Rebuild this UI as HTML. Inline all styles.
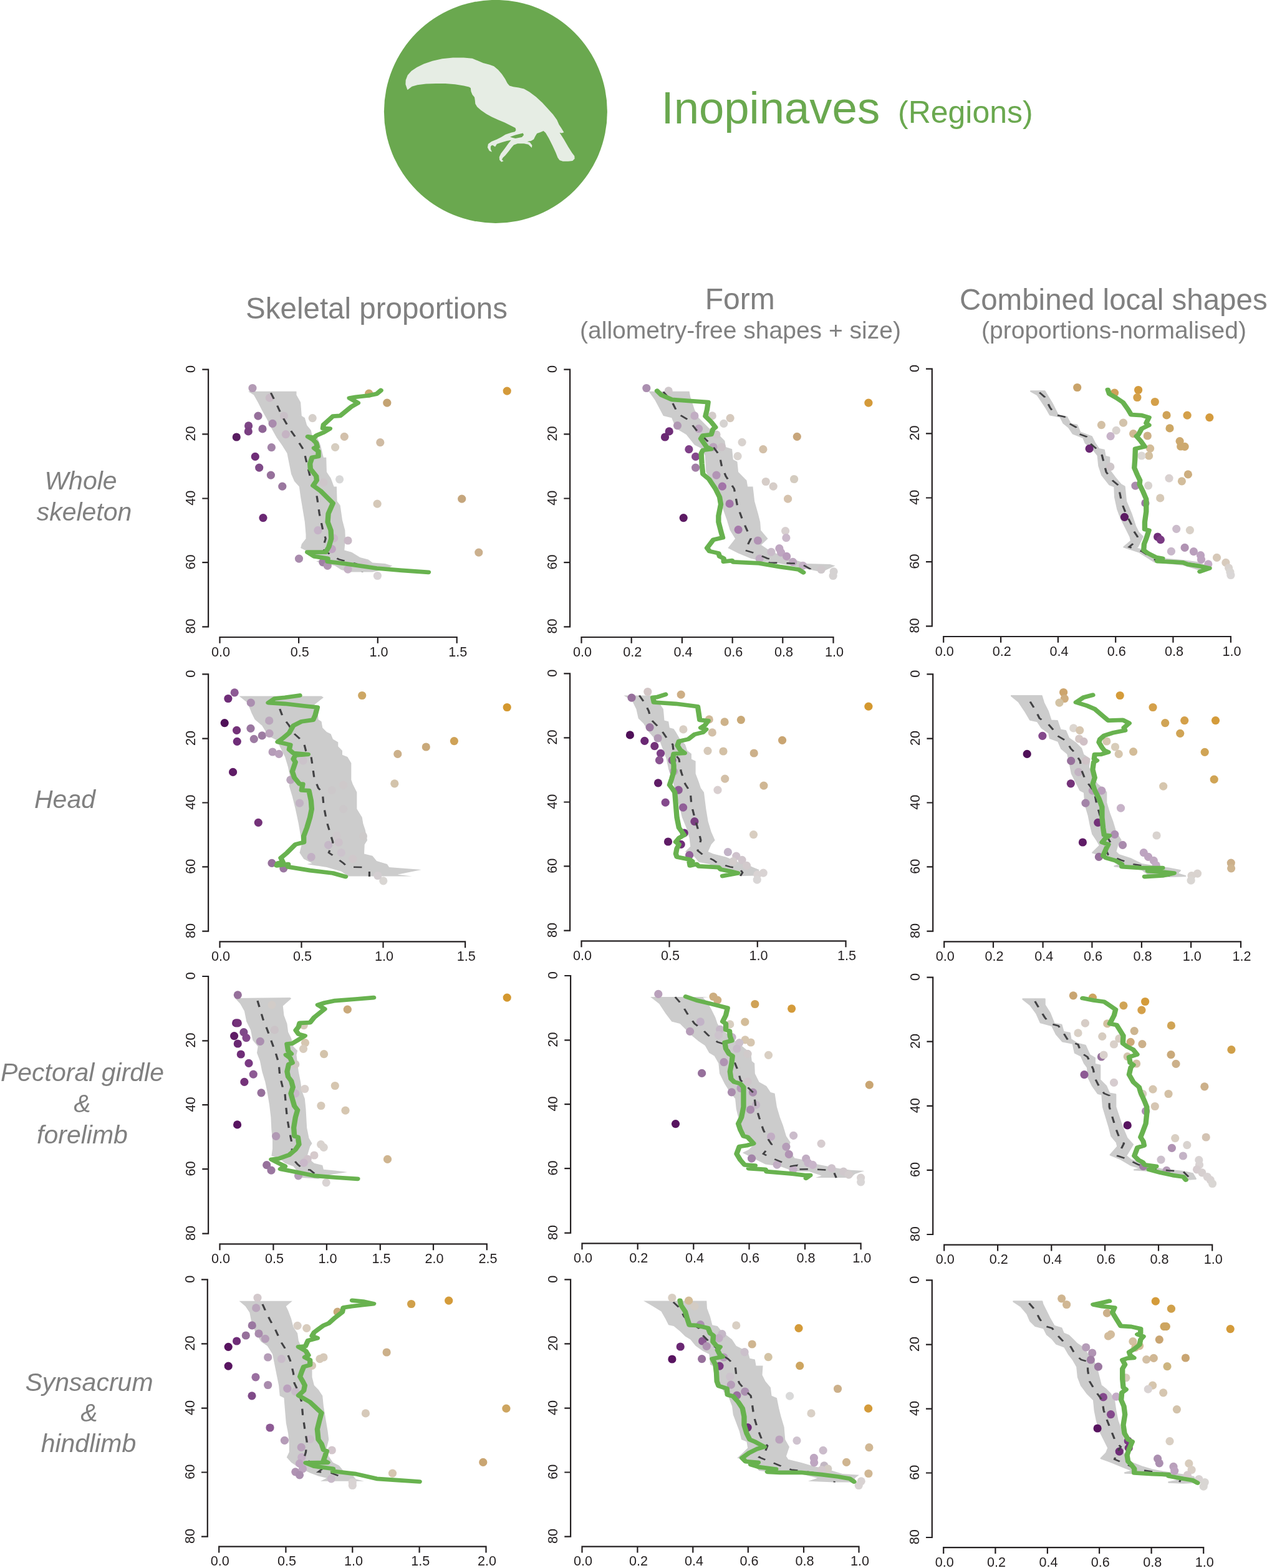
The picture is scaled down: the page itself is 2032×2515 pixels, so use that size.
<!DOCTYPE html>
<html lang="en"><head><meta charset="utf-8"><title>Inopinaves (Regions)</title>
<style>
html,body{margin:0;padding:0;background:#fff}
body{width:2032px;height:2515px;overflow:hidden;font-family:"Liberation Sans",sans-serif}
svg{display:block;font-family:"Liberation Sans",sans-serif}
.tk text{font-size:21.6px;fill:#231f20;text-anchor:middle}
.hd text{fill:#808080;text-anchor:middle}
.rl text{fill:#808080;text-anchor:middle;font-style:italic;font-size:41px}
</style></head><body>
<svg width="2032" height="2515" viewBox="0 0 2032 2515">
<rect width="2032" height="2515" fill="#fff"/>
<g>

<circle cx="794.9" cy="178.9" r="179" fill="#6aa84f"/>
<polygon fill="#e6ede4" points="653.5,144.3 650.4,135.3 650.7,128.4 653.8,120.6 659.9,113.7 668.5,108.0 679.7,102.5 693.6,97.8 709.1,94.3 726.4,92.6 743.7,92.4 757.5,93.8 766.1,97.3 774.8,101.1 785.2,103.8 792.1,106.3 799.0,112.0 805.0,118.9 810.2,126.7 813.7,133.6 817.1,137.4 823.2,139.3 831.8,140.5 840.4,142.6 849.1,147.4 859.5,155.2 869.8,164.7 878.5,174.2 887.1,183.7 893.2,192.3 896.6,200.1 900.1,205.3 904.4,212.2 900.9,213.4 897.5,212.7 904.4,223.4 911.3,235.5 917.3,245.0 921.3,250.2 921.7,254.5 918.2,258.0 911.3,258.8 902.7,258.8 897.5,257.1 894.4,252.8 891.4,245.0 886.2,233.8 880.2,221.7 875.0,213.1 871.6,209.9 866.4,212.2 861.2,213.9 858.6,218.2 856.0,223.4 851.7,226.0 845.6,226.9 850.0,228.6 853.4,232.9 852.9,236.9 850.5,234.7 847.4,231.7 840.4,230.3 830.1,230.3 824.0,232.4 820.7,236.2 815.6,243.1 810.4,249.2 806.2,253.3 804.9,256.3 807.6,258.3 804.2,259.7 801.1,256.6 800.7,251.9 803.3,246.2 809.3,238.5 815.4,230.0 819.7,224.8 812.8,226.0 804.2,228.6 796.9,231.0 794.1,235.5 791.2,233.4 789.0,232.8 786.9,235.0 786.9,239.0 789.0,243.8 784.8,241.9 781.9,236.4 782.9,230.9 788.3,227.1 796.9,223.6 803.8,220.1 810.7,215.8 819.7,212.7 825.8,211.3 827.5,208.7 826.6,205.3 819.7,201.8 809.3,196.6 799.0,192.3 788.6,187.5 780.0,182.8 771.3,176.8 765.3,171.6 762.3,166.4 761.8,161.2 761.0,156.0 757.5,151.7 755.4,146.5 754.9,141.3 752.3,139.6 743.7,137.4 729.9,135.3 714.3,134.1 698.8,133.9 683.2,134.6 669.4,136.2 660.7,138.8 656.4,141.9"/>
<polygon fill="#6aa84f" points="818.0,219.6 826.6,216.5 838.7,213.4 840.1,216.5 837.0,220.0 826.6,222.0 821.4,220.8"/>
<text x="1060.5" y="198" font-size="72.5" fill="#6aa84f">Inopinaves</text>
<text x="1440" y="196.5" font-size="50" fill="#6aa84f">(Regions)</text>
<g class="hd">
<text x="604" y="510.8" font-size="47.5">Skeletal proportions</text>
<text x="1186.8" y="496" font-size="48">Form</text>
<text x="1187.5" y="543" font-size="39">(allometry-free shapes + size)</text>
<text x="1538.9" y="496.5" font-size="47.5" style="text-anchor:start">Combined local shapes</text>
<text x="1786.5" y="543" font-size="39">(proportions-normalised)</text>
</g>
<g class="rl">
<text x="129.5" y="784.7">Whole</text>
<text x="135" y="834.5">skeleton</text>
<text x="104" y="1296">Head</text>
<text x="132" y="1734.3">Pectoral girdle</text>
<text x="132" y="1784.4">&amp;</text>
<text x="132" y="1834.3">forelimb</text>
<text x="143" y="2230.7">Synsacrum</text>
<text x="143" y="2280">&amp;</text>
<text x="142" y="2329.4">hindlimb</text>
</g>

<!-- panel p00 -->
<g>
<polygon fill="#cccccc" points="397.96,627.8 406.98,633.5 413.66,645.2 420.35,658.5 428.7,673.6 435.38,686.9 443.73,702 452.09,713.7 460.44,727 463.78,743.7 467.12,760.4 472.13,772.1 479.82,780.5 482.15,797.2 485.5,817.2 488.84,837.3 490.51,857.3 490.51,864 483.83,872.4 482.15,879 492.18,884.1 503.87,890.7 517.24,895.7 507.21,900.8 523.92,904.1 537.28,907.4 547.3,914.1 560.67,917.5 597.42,917.5 620.81,912.5 629.16,907.4 617.47,904.1 597.42,902.4 590.74,897.4 577.37,894.1 564.01,885.7 552.32,882.4 553.99,864 553.32,850.6 548.97,833.9 545.63,810.6 540.62,803.9 539.95,780.5 535.61,780.5 530.6,767.1 523.92,757.1 523.25,733.7 518.91,733.7 513.89,713.7 508.88,702 500.53,698.6 498.86,690.3 492.18,681.9 488.84,670.2 483.83,666.9 482.15,645.2 475.47,633.5 475.47,627.8"/>
<circle cx="405" cy="622.5" r="6.6" fill="#b39bb5"/>
<circle cx="414" cy="667.2" r="6.6" fill="#96709b"/>
<circle cx="398.6" cy="682.9" r="6.6" fill="#7d4585"/>
<circle cx="398.3" cy="691.9" r="6.6" fill="#7a3f82"/>
<circle cx="421" cy="687.9" r="6.6" fill="#8f6596"/>
<circle cx="437.1" cy="679.3" r="6.6" fill="#a98bad"/>
<circle cx="379.3" cy="701" r="6.6" fill="#581c60"/>
<circle cx="435.4" cy="717.7" r="6.6" fill="#a384a8"/>
<circle cx="409.3" cy="732.4" r="6.6" fill="#6f2d78"/>
<circle cx="415.7" cy="750.1" r="6.6" fill="#7f4a88"/>
<circle cx="434.4" cy="762.1" r="6.6" fill="#96709b"/>
<circle cx="452.8" cy="780.2" r="6.6" fill="#9a779f"/>
<circle cx="422" cy="830.6" r="6.6" fill="#6a2873"/>
<circle cx="501.2" cy="670.6" r="6.6" fill="#d5cfca"/>
<circle cx="552.3" cy="700.3" r="6.6" fill="#d2c0ab"/>
<circle cx="537.6" cy="717.3" r="6.6" fill="#d6cdc0"/>
<circle cx="609.8" cy="709.7" r="6.6" fill="#cfbba3"/>
<circle cx="544.6" cy="768.8" r="6.6" fill="#d8d8d8"/>
<circle cx="605.1" cy="808.2" r="6.6" fill="#d5c8b8"/>
<circle cx="591.7" cy="631.1" r="6.6" fill="#c9a66f"/>
<circle cx="620.8" cy="646.2" r="6.6" fill="#c4a373"/>
<circle cx="813.2" cy="627.1" r="6.6" fill="#d49a3a"/>
<circle cx="740.7" cy="800.2" r="6.6" fill="#c5a67d"/>
<circle cx="767.8" cy="886.1" r="6.6" fill="#cbb08e"/>
<circle cx="558" cy="867" r="6.6" fill="#c9b9c6"/>
<circle cx="479.5" cy="896.1" r="6.6" fill="#a98bad"/>
<circle cx="605.4" cy="923.5" r="6.6" fill="#d9d3d6"/>
<circle cx="432.4" cy="638.2" r="6.6" fill="#c9bcc6"/>
<circle cx="455.4" cy="667.2" r="6.6" fill="#c9c0c7"/>
<circle cx="458.4" cy="696.6" r="6.6" fill="#c5b4c3"/>
<circle cx="509.9" cy="850.6" r="6.6" fill="#c5b3c7"/>
<circle cx="535.6" cy="863.3" r="6.6" fill="#cbbaca"/>
<circle cx="532.3" cy="880.7" r="6.6" fill="#c0a6c2"/>
<circle cx="517.9" cy="901.8" r="6.6" fill="#a07fa5"/>
<circle cx="525.3" cy="907.4" r="6.6" fill="#b195b3"/>
<circle cx="558" cy="913.1" r="6.6" fill="#c5b2c5"/>
<circle cx="518.9" cy="773.8" r="6.6" fill="#cec6ca"/>
<circle cx="584.1" cy="904.1" r="6.6" fill="#cec6cc"/>
<polyline transform="scale(1.3 1)" fill="none" stroke="#424244" stroke-width="2.5" stroke-dasharray="10.3 11.7" points="334.14,630.1 341.33,648.5 347.76,666.9 356.75,686.9 365.75,703.6 374.74,722 378.6,743.7 382.45,763.8 388.88,780.5 391.45,800.5 394.02,823.9 397.87,847.3 401.73,864 397.87,880.7 410.72,892.4 418.43,897.4 438.99,904.1 449.27,910.8 446.7,917.5"/>
<polyline transform="scale(1.25 1)" fill="none" stroke="#68b24f" stroke-width="6.7" stroke-linejoin="round" stroke-linecap="round" points="488.63,626.1 483.28,631.8 472.59,634.5 456.55,636.8 448.53,638.5 459.23,646.2 451.21,651.9 436.51,666.9 427.15,667.6 415.12,681.3 414.32,686.9 423.14,687.6 415.12,693.6 405.77,698.6 403.1,702 395.08,700.3 401.76,705.3 405.77,710.3 407.11,717 403.1,718.7 408.44,723.7 408.44,732 400.42,733.7 397.75,743.7 398.29,752.1 405.77,763.8 406.3,770.5 401.76,778.8 411.12,787.2 427.15,807.2 421.27,823.9 420.47,837.3 424.48,850.6 425.01,864 421.81,877.4 417.8,885.7 394.54,885.7 403.1,892.4 420.47,895.7 420.47,900.8 443.19,904.1 483.28,911.5 515.36,914.8 549.57,917.8"/>
<path d="M324.3 592.7H334.1V1005.3H324.3M324.3 696.3H334.1M324.3 799.5H334.1M324.3 902.1H334.1M352.5 1031.8V1022H732.7V1031.8M479.1 1022V1031.8M605.8 1022V1031.8" fill="none" stroke="#231f20" stroke-width="2.2"/>
<g class="tk">
<text transform="translate(312.9 592) rotate(-90)">0</text>
<text transform="translate(312.9 695.6) rotate(-90)">20</text>
<text transform="translate(312.9 798.8) rotate(-90)">40</text>
<text transform="translate(312.9 901.4) rotate(-90)">60</text>
<text transform="translate(312.9 1004.6) rotate(-90)">80</text>
<text x="354.1" y="1052.7">0.0</text>
<text x="480.7" y="1052.7">0.5</text>
<text x="607.4" y="1052.7">1.0</text>
<text x="734.3" y="1052.7">1.5</text>
</g></g>
<!-- panel p01 -->
<g>
<polygon fill="#cccccc" points="1040.44,627.8 1050.46,641.8 1063.83,666.9 1077.19,670.2 1083.87,686.9 1100.58,697 1113.94,713.7 1123.96,718.7 1130.65,730.4 1132.32,757.1 1144.01,777.1 1150.69,787.2 1157.37,810.6 1165.73,833.9 1170.74,850.6 1179.09,864 1167.4,879 1184.1,887.4 1204.15,895.7 1224.19,900.8 1250.92,904.1 1284.33,910.8 1317.74,917.5 1339.46,907.4 1331.11,905.1 1294.36,904.1 1277.65,899.1 1250.92,890.7 1230.88,880.7 1220.85,874 1231.54,864 1220.18,850.6 1219.18,837.3 1215.84,823.9 1210.16,803.9 1207.49,780.5 1199.14,780.5 1197.47,770.5 1184.1,757.1 1182.43,740.4 1175.75,737.1 1174.08,720.3 1164.06,717 1162.39,707 1154.03,698.6 1147.35,691.9 1137.33,686.9 1130.65,680.3 1120.62,670.2 1113.94,656.9 1107.26,636.8 1105.59,627.8"/>
<circle cx="1036.8" cy="622.5" r="6.6" fill="#ab8fb0"/>
<circle cx="1072.2" cy="626.8" r="6.6" fill="#d0c8cc"/>
<circle cx="1086.5" cy="682.6" r="6.6" fill="#b097b3"/>
<circle cx="1073.2" cy="691.9" r="6.6" fill="#6f2d78"/>
<circle cx="1066.5" cy="701" r="6.6" fill="#6a2873"/>
<circle cx="1104.9" cy="720.7" r="6.6" fill="#7f4088"/>
<circle cx="1115.6" cy="732.4" r="6.6" fill="#84498c"/>
<circle cx="1115.6" cy="750.1" r="6.6" fill="#a27fa6"/>
<circle cx="1096.2" cy="830.6" r="6.6" fill="#5c1a63"/>
<circle cx="1142.3" cy="666.9" r="6.6" fill="#d3cbc9"/>
<circle cx="1160.7" cy="679.3" r="6.6" fill="#d6d3d1"/>
<circle cx="1171.1" cy="670.6" r="6.6" fill="#d5c9bd"/>
<circle cx="1190.1" cy="709.3" r="6.6" fill="#d8d2ce"/>
<circle cx="1183.1" cy="731.7" r="6.6" fill="#d9d4d0"/>
<circle cx="1223.9" cy="720.7" r="6.6" fill="#d3c0a9"/>
<circle cx="1278.3" cy="700.3" r="6.6" fill="#c8a67b"/>
<circle cx="1392.9" cy="646.2" r="6.6" fill="#d49a3a"/>
<circle cx="1273.6" cy="768.5" r="6.6" fill="#d4ccc0"/>
<circle cx="1228.2" cy="772.5" r="6.6" fill="#d6cdc8"/>
<circle cx="1240.2" cy="780.2" r="6.6" fill="#d6cdc8"/>
<circle cx="1263.6" cy="800.2" r="6.6" fill="#d6c3ae"/>
<circle cx="1259.6" cy="851.6" r="6.6" fill="#d8d0d0"/>
<circle cx="1260.9" cy="862.7" r="6.6" fill="#cbb9cb"/>
<circle cx="1337.1" cy="916.8" r="6.6" fill="#d5d2d2"/>
<circle cx="1336.1" cy="923.5" r="6.6" fill="#d5d2d2"/>
<circle cx="1113.9" cy="666.9" r="6.6" fill="#c1adc3"/>
<circle cx="1120.6" cy="687.6" r="6.6" fill="#baa2bc"/>
<circle cx="1149" cy="762.1" r="6.6" fill="#b295b5"/>
<circle cx="1158.4" cy="780.2" r="6.6" fill="#a274a8"/>
<circle cx="1170.1" cy="807.9" r="6.6" fill="#a274a8"/>
<circle cx="1184.1" cy="849.6" r="6.6" fill="#a578aa"/>
<circle cx="1215.5" cy="867" r="6.6" fill="#b193b4"/>
<circle cx="1249.9" cy="879.7" r="6.6" fill="#bfa6c1"/>
<circle cx="1236.9" cy="885.4" r="6.6" fill="#c9bbc9"/>
<circle cx="1252.6" cy="886.1" r="6.6" fill="#bfa6c1"/>
<circle cx="1261.6" cy="892.4" r="6.6" fill="#b99cbc"/>
<circle cx="1218.2" cy="896.1" r="6.6" fill="#c1adc3"/>
<circle cx="1271.6" cy="901.4" r="6.6" fill="#bfa9c1"/>
<circle cx="1287.7" cy="907.4" r="6.6" fill="#c5b3c7"/>
<circle cx="1317.1" cy="913.5" r="6.6" fill="#cec8cb"/>
<circle cx="1157.4" cy="717" r="6.6" fill="#cbc2c7"/>
<circle cx="1144" cy="717" r="6.6" fill="#baa2bc"/>
<circle cx="1149" cy="697" r="6.6" fill="#cec8ca"/>
<polyline transform="scale(1.3 1)" fill="none" stroke="#424244" stroke-width="2.5" stroke-dasharray="10.3 11.7" points="818.33,628.5 828.61,643.5 836.32,663.5 849.17,673.6 859.45,690.3 869.73,703.6 880.01,717 887.72,730.4 890.29,747.1 895.43,763.8 905.71,783.8 909.56,810.6 915.99,833.9 921.13,849 926.27,864 921.13,877.4 918.56,882.4 931.41,887.4 946.83,895.7 954.54,897.4 949.4,902.4 987.95,904.1 999.51,912.5 998.23,917.5"/>
<polyline transform="scale(1.25 1)" fill="none" stroke="#68b24f" stroke-width="6.7" stroke-linejoin="round" stroke-linecap="round" points="843.04,626.8 848.39,633.5 861.75,640.8 883.13,642.8 908.53,645.2 907.19,656.9 905.05,667.6 912.53,676.9 917.88,685.3 914.67,688.6 912.53,697 901.84,698.6 899.17,703.6 906.65,717 912.53,720.3 901.84,722 899.71,727 900.51,743.7 901.84,760.4 909.86,768.8 912.53,773.8 917.88,783.8 923.23,797.2 924.83,808.9 921.89,827.3 921.89,837.3 925.36,854 927.24,862.3 915.21,865.7 907.19,879 910.4,884.1 921.89,887.4 923.23,892.4 928.57,895.7 928.57,900.8 939.26,899.1 940.6,901.4 974.01,903.4 1000.74,909.1 1024.79,913.5 1030.67,918.1"/>
<path d="M904.3 592.7H914.1V1005.3H904.3M904.3 696.3H914.1M904.3 799.5H914.1M904.3 902.1H914.1M932.5 1031.8V1022H1336.5V1031.8M1012.7 1022V1031.8M1093.9 1022V1031.8M1174.7 1022V1031.8M1255.3 1022V1031.8" fill="none" stroke="#231f20" stroke-width="2.2"/>
<g class="tk">
<text transform="translate(892.9 592) rotate(-90)">0</text>
<text transform="translate(892.9 695.6) rotate(-90)">20</text>
<text transform="translate(892.9 798.8) rotate(-90)">40</text>
<text transform="translate(892.9 901.4) rotate(-90)">60</text>
<text transform="translate(892.9 1004.6) rotate(-90)">80</text>
<text x="934.1" y="1052.7">0.0</text>
<text x="1014.3" y="1052.7">0.2</text>
<text x="1095.5" y="1052.7">0.4</text>
<text x="1176.3" y="1052.7">0.6</text>
<text x="1256.9" y="1052.7">0.8</text>
<text x="1338.1" y="1052.7">1.0</text>
</g></g>
<!-- panel p02 -->
<g>
<polygon fill="#cccccc" stroke="#cccccc" stroke-width="2.4" stroke-linejoin="round" points="1653.18,627.5 1663.87,633.5 1677.24,653.5 1683.92,665.2 1700.62,668.6 1705.63,678.6 1713.99,685.3 1720.67,695.3 1737.37,702 1740.71,710.3 1754.08,722 1760.76,730.4 1762.43,747.1 1767.44,762.1 1779.14,777.1 1787.49,780.5 1788.16,797.2 1792.5,817.2 1797.51,830.6 1805.86,847.3 1812.55,860.7 1814.22,867.4 1802.52,877.4 1827.58,885.7 1850.97,900.8 1897.74,905.8 1931.15,915.8 1941.18,910.8 1921.13,902.4 1897.74,899.1 1857.65,895.7 1834.26,882.4 1819.23,879 1824.24,877.4 1832.59,860.7 1825.91,854 1820.9,844 1814.22,823.9 1805.86,803.9 1803.53,780.5 1797.51,777.1 1789.16,767.1 1779.14,753.8 1779.14,733.7 1772.45,732 1770.78,722 1762.43,720.3 1755.75,710.3 1750.74,700.3 1732.36,693.6 1727.35,681.9 1717.33,680.3 1710.65,668.6 1697.28,666.9 1687.26,646.8 1675.56,627.5"/>
<circle cx="1727.7" cy="621.5" r="6.6" fill="#c9a36a"/>
<circle cx="1787.5" cy="630.1" r="6.6" fill="#cfa059"/>
<circle cx="1825.6" cy="625.5" r="6.6" fill="#d49b3e"/>
<circle cx="1823.9" cy="637.5" r="6.6" fill="#d4a04a"/>
<circle cx="1852.3" cy="644.5" r="6.6" fill="#d4a04a"/>
<circle cx="1871" cy="665.9" r="6.6" fill="#cfa257"/>
<circle cx="1904.1" cy="666.2" r="6.6" fill="#d4a04a"/>
<circle cx="1939.8" cy="669.6" r="6.6" fill="#d49b3e"/>
<circle cx="1876" cy="686.9" r="6.6" fill="#cda764"/>
<circle cx="1766.4" cy="681.6" r="6.6" fill="#d3c0a5"/>
<circle cx="1801.5" cy="678.2" r="6.6" fill="#d3c3ab"/>
<circle cx="1790.2" cy="690.3" r="6.6" fill="#d9d3cf"/>
<circle cx="1781.1" cy="699.6" r="6.6" fill="#c7b3c8"/>
<circle cx="1817.6" cy="695.6" r="6.6" fill="#d0b893"/>
<circle cx="1840.3" cy="699" r="6.6" fill="#cdb086"/>
<circle cx="1892.1" cy="707.6" r="6.6" fill="#cda96f"/>
<circle cx="1893.7" cy="716" r="6.6" fill="#cda96f"/>
<circle cx="1900.1" cy="716.3" r="6.6" fill="#cda96f"/>
<circle cx="1844.6" cy="719.3" r="6.6" fill="#d3bc98"/>
<circle cx="1842.6" cy="731" r="6.6" fill="#d3c0a0"/>
<circle cx="1830.9" cy="731" r="6.6" fill="#dcd8d4"/>
<circle cx="1747.1" cy="719.7" r="6.6" fill="#6a2873"/>
<circle cx="1905.4" cy="760.8" r="6.6" fill="#cdae7f"/>
<circle cx="1895.4" cy="771.8" r="6.6" fill="#d2bd9c"/>
<circle cx="1875" cy="767.1" r="6.6" fill="#d9d1d0"/>
<circle cx="1820.9" cy="779.1" r="6.6" fill="#a98bad"/>
<circle cx="1841.6" cy="778.8" r="6.6" fill="#d8d3cf"/>
<circle cx="1860.7" cy="798.9" r="6.6" fill="#d6c9b7"/>
<circle cx="1836.9" cy="806.9" r="6.6" fill="#9a77a0"/>
<circle cx="1803.5" cy="829.3" r="6.6" fill="#5c1a63"/>
<circle cx="1886.7" cy="848.3" r="6.6" fill="#cbbccb"/>
<circle cx="1908.4" cy="850.3" r="6.6" fill="#d9d1c8"/>
<circle cx="1856.6" cy="861" r="6.6" fill="#6f2d78"/>
<circle cx="1861.3" cy="865.7" r="6.6" fill="#7a3a83"/>
<circle cx="1900.1" cy="878.4" r="6.6" fill="#b093b3"/>
<circle cx="1878.4" cy="884.4" r="6.6" fill="#c9b8cb"/>
<circle cx="1914.4" cy="884.7" r="6.6" fill="#b99fbc"/>
<circle cx="1925.5" cy="890.7" r="6.6" fill="#bda3c0"/>
<circle cx="1926.5" cy="897.4" r="6.6" fill="#bda3c0"/>
<circle cx="1937.8" cy="904.8" r="6.6" fill="#c4acc6"/>
<circle cx="1951.5" cy="894.4" r="6.6" fill="#d6c8b8"/>
<circle cx="1965.9" cy="902.4" r="6.6" fill="#d8cbbd"/>
<circle cx="1970.6" cy="910.8" r="6.6" fill="#d9d3cf"/>
<circle cx="1972.9" cy="917.5" r="6.6" fill="#d9d6d3"/>
<circle cx="1973.9" cy="922.5" r="6.6" fill="#d9d6d6"/>
<circle cx="1780.8" cy="748.7" r="6.6" fill="#cec6c9"/>
<polyline transform="scale(1.3 1)" fill="none" stroke="#424244" stroke-width="2.5" stroke-dasharray="10.3 11.7" points="1282.47,629.5 1288.9,636.8 1295.32,653.5 1301.75,665.2 1313.31,668.6 1318.45,678.6 1327.45,685.3 1330.02,695.3 1340.3,700.3 1344.15,710.3 1353.15,720.3 1359.57,730.4 1362.14,743.7 1364.71,757.1 1372.42,770.5 1380.13,778.8 1381.42,790.5 1383.99,807.2 1389.13,823.9 1395.55,840.6 1398.12,850.6 1403.26,860.7 1400.69,869 1392.98,877.4 1408.4,884.1 1426.39,899.1 1459.8,902.4 1477.79,905.8 1488.07,914.1"/>
<polyline transform="scale(1.25 1)" fill="none" stroke="#68b24f" stroke-width="6.7" stroke-linejoin="round" stroke-linecap="round" points="1421.44,625.1 1423.31,631.8 1432.66,638.5 1440.68,645.2 1447.36,656.9 1451.37,665.2 1464.74,666.2 1474.09,669.6 1470.62,678.6 1474.09,681.9 1464.74,687.6 1460.73,697 1458.06,699.6 1463.4,707 1468.75,716.3 1456.72,719.7 1456.18,737.1 1455.38,750.4 1459.39,762.1 1462.6,770.5 1462.06,777.1 1466.07,787.2 1470.62,800.5 1470.62,820.6 1468.75,837.3 1468.75,849 1474.09,850.6 1470.62,864 1467.95,872.4 1467.41,882.4 1472.76,887.4 1483.45,894.1 1491.47,895.7 1484.78,900.1 1504.83,901.4 1518.19,902.4 1523.54,905.1 1539.58,908.1 1551.6,911.5 1539.58,916.8"/>
<path d="M1485 591.7H1494.8V1004.3H1485M1485 695.3H1494.8M1485 798.5H1494.8M1485 901.1H1494.8M1513.2 1030.8V1021H1973.9V1030.8M1605.1 1021V1030.8M1696.9 1021V1030.8M1789.2 1021V1030.8M1881.4 1021V1030.8" fill="none" stroke="#231f20" stroke-width="2.2"/>
<g class="tk">
<text transform="translate(1473.6 591) rotate(-90)">0</text>
<text transform="translate(1473.6 694.6) rotate(-90)">20</text>
<text transform="translate(1473.6 797.8) rotate(-90)">40</text>
<text transform="translate(1473.6 900.4) rotate(-90)">60</text>
<text transform="translate(1473.6 1003.6) rotate(-90)">80</text>
<text x="1514.8" y="1051.7">0.0</text>
<text x="1606.7" y="1051.7">0.2</text>
<text x="1698.5" y="1051.7">0.4</text>
<text x="1790.8" y="1051.7">0.6</text>
<text x="1883" y="1051.7">0.8</text>
<text x="1975.5" y="1051.7">1.0</text>
</g></g>
<!-- panel p10 -->
<g>
<polygon fill="#cccccc" points="383.59,1116.5 396.96,1127.2 403.64,1143.9 408.65,1153.9 420.35,1163.9 430.37,1180.6 443.73,1187.3 450.41,1200.7 457.1,1214 462.11,1230.7 465.45,1247.4 463.78,1260.8 468.79,1277.5 473.8,1297.6 478.81,1320.9 482.15,1341 483.83,1354.4 480.48,1367.7 487.17,1377.7 500.53,1384.4 492.18,1386.1 523.92,1391.1 547.3,1397.8 557.33,1404.5 557.33,1405.5 660.9,1405.5 637.51,1402.8 675.93,1395.1 624.15,1391.1 620.81,1386.1 604.1,1381.1 597.42,1372.7 584.06,1369.4 584.72,1354.4 589.07,1347.7 585.73,1331 582.39,1320.9 580.71,1310.9 572.36,1297.6 572.36,1270.8 565.68,1257.5 563.34,1250.8 563.34,1224.1 557.33,1214 548.97,1210.7 548.97,1204 542.29,1197.3 542.29,1190.6 533.94,1185.6 530.6,1177.3 523.92,1173.9 517.24,1167.3 515.56,1157.2 510.55,1153.9 508.88,1132.2 503.87,1130.5 518.91,1118.8 515.56,1116.5"/>
<circle cx="376.2" cy="1110.8" r="6.6" fill="#8d5a94"/>
<circle cx="365.9" cy="1120.5" r="6.6" fill="#6f2d78"/>
<circle cx="402.3" cy="1127.2" r="6.6" fill="#ab8fb0"/>
<circle cx="360.2" cy="1159.6" r="6.6" fill="#4f1058"/>
<circle cx="379.6" cy="1171.3" r="6.6" fill="#743279"/>
<circle cx="402" cy="1168.3" r="6.6" fill="#9a77a0"/>
<circle cx="420.3" cy="1179.9" r="6.6" fill="#9d7ba2"/>
<circle cx="407.3" cy="1185.3" r="6.6" fill="#9d7ba2"/>
<circle cx="380.3" cy="1189.3" r="6.6" fill="#6f2d78"/>
<circle cx="437.1" cy="1206" r="6.6" fill="#b59cb8"/>
<circle cx="447.4" cy="1209.4" r="6.6" fill="#b9a0bb"/>
<circle cx="373.6" cy="1238.4" r="6.6" fill="#5f1c66"/>
<circle cx="414.3" cy="1319.3" r="6.6" fill="#743279"/>
<circle cx="436" cy="1384.4" r="6.6" fill="#96709b"/>
<circle cx="454.8" cy="1392.8" r="6.6" fill="#9a77a0"/>
<circle cx="580.7" cy="1115.5" r="6.6" fill="#cda764"/>
<circle cx="813.2" cy="1134.5" r="6.6" fill="#d4982f"/>
<circle cx="728.4" cy="1188.6" r="6.6" fill="#cfa257"/>
<circle cx="683.3" cy="1198" r="6.6" fill="#c9a97a"/>
<circle cx="637.8" cy="1209.4" r="6.6" fill="#ccb08a"/>
<circle cx="632.8" cy="1256.8" r="6.6" fill="#d3c3ab"/>
<circle cx="614.8" cy="1412.8" r="6.6" fill="#d9d6d3"/>
<circle cx="605.8" cy="1404.5" r="6.6" fill="#d3cdd0"/>
<circle cx="431.7" cy="1155.9" r="6.6" fill="#baa6bc"/>
<circle cx="432" cy="1176.3" r="6.6" fill="#baa2bb"/>
<circle cx="465.8" cy="1250.8" r="6.6" fill="#baa6bc"/>
<circle cx="480.5" cy="1288.2" r="6.6" fill="#c1b2c3"/>
<circle cx="486.2" cy="1220" r="6.6" fill="#cbc3ca"/>
<circle cx="499.2" cy="1374.7" r="6.6" fill="#c2b0c4"/>
<circle cx="526.6" cy="1355.4" r="6.6" fill="#c5b8c7"/>
<circle cx="540" cy="1340.3" r="6.6" fill="#cec8cc"/>
<circle cx="543.3" cy="1351" r="6.6" fill="#ccc2ca"/>
<circle cx="547.3" cy="1367.7" r="6.6" fill="#ccc3cc"/>
<circle cx="565.7" cy="1377.7" r="6.6" fill="#d0c8cb"/>
<circle cx="550.6" cy="1259.1" r="6.6" fill="#cec9ca"/>
<circle cx="532.3" cy="1267.5" r="6.6" fill="#ccc8ca"/>
<circle cx="550.6" cy="1297.6" r="6.6" fill="#ccc8ca"/>
<circle cx="582.4" cy="1341" r="6.6" fill="#cdcaca"/>
<polyline transform="scale(1.3 1)" fill="none" stroke="#424244" stroke-width="2.5" stroke-dasharray="10.3 11.7" points="345.19,1137.2 349.04,1150.5 356.75,1163.9 361.89,1175.6 374.74,1190.6 377.31,1204 383.74,1212.4 385.79,1230.7 387.59,1247.4 392.73,1264.1 397.87,1270.8 399.16,1290.9 403.01,1317.6 406.87,1334.3 410.72,1351 405.58,1367.7 413.29,1374.4 423.57,1384.4 428.71,1390.4 446.7,1391.1 455.7,1397.8 455.7,1406.1"/>
<polyline transform="scale(1.25 1)" fill="none" stroke="#68b24f" stroke-width="6.7" stroke-linejoin="round" stroke-linecap="round" points="384.39,1115.5 365.68,1118.8 352.31,1120.5 344.3,1127.2 365.68,1128.8 389.73,1132.2 407.11,1134.5 404.43,1147.2 401.76,1154.6 387.06,1157.2 376.37,1163.9 371.02,1175.6 363,1184 356.32,1190 372.36,1194.6 371.02,1202.3 376.37,1208 395.08,1210 379.04,1211.4 376.37,1217.4 379.04,1222.4 375.03,1237.4 377.71,1247.4 384.39,1257.5 388.4,1257.5 387.06,1267.5 396.41,1268.2 399.09,1284.2 399.89,1297.6 397.75,1310.9 393.74,1327.6 389.73,1341 389.73,1351 379.04,1354.4 368.35,1367.7 360.33,1376.1 363,1382.7 356.32,1384.4 354.99,1388.4 369.69,1386.1 369.69,1390.4 397.75,1396.1 427.15,1400.5 443.19,1406.1"/>
<path d="M324.3 1081.4H334.1V1493.7H324.3M324.3 1184.6H334.1M324.3 1287.5H334.1M324.3 1390.4H334.1M352.5 1520.2V1510.4H746.1V1520.2M483.5 1510.4V1520.2M614.5 1510.4V1520.2" fill="none" stroke="#231f20" stroke-width="2.2"/>
<g class="tk">
<text transform="translate(312.9 1080.7) rotate(-90)">0</text>
<text transform="translate(312.9 1183.9) rotate(-90)">20</text>
<text transform="translate(312.9 1286.8) rotate(-90)">40</text>
<text transform="translate(312.9 1389.7) rotate(-90)">60</text>
<text transform="translate(312.9 1493) rotate(-90)">80</text>
<text x="354.1" y="1541.1">0.0</text>
<text x="485.1" y="1541.1">0.5</text>
<text x="616.1" y="1541.1">1.0</text>
<text x="747.7" y="1541.1">1.5</text>
</g></g>
<!-- panel p11 -->
<g>
<polygon fill="#cccccc" points="1000.35,1115.5 1013.71,1123.8 1020.39,1137.2 1023.73,1152.2 1032.09,1160.6 1040.44,1173.9 1050.46,1185.6 1058.81,1190.6 1063.83,1204 1068.84,1217.4 1072.18,1234.1 1077.19,1247.4 1083.87,1270.8 1088.88,1290.9 1093.89,1310.9 1100.58,1327.6 1105.59,1344.3 1107.26,1357.7 1098.91,1366 1113.94,1374.4 1120.62,1382.7 1137.33,1386.1 1157.37,1394.4 1170.74,1401.1 1190.78,1405.1 1214.17,1404.5 1217.51,1395.1 1207.49,1391.1 1197.47,1386.1 1184.1,1382.7 1164.06,1374.4 1144.01,1369.4 1135.66,1366 1140.67,1354.4 1146.68,1347.7 1140.67,1334.3 1135.66,1317.6 1132.32,1297.6 1128.97,1270.8 1123.96,1264.1 1120.62,1254.1 1115.61,1240.8 1115.61,1220.7 1108.93,1217.4 1108.93,1209 1102.25,1204 1098.91,1194 1090.55,1185.6 1083.87,1173.9 1080.53,1168.9 1073.85,1167.3 1072.18,1157.2 1065.5,1155.6 1063.83,1137.2 1057.14,1127.2 1047.12,1117.1 1043.78,1115.5"/>
<circle cx="1038.8" cy="1109.5" r="6.6" fill="#d3c6c6"/>
<circle cx="1013" cy="1119.1" r="6.6" fill="#96709b"/>
<circle cx="1092.2" cy="1114.1" r="6.6" fill="#cdae85"/>
<circle cx="1392.9" cy="1133.2" r="6.6" fill="#d4982f"/>
<circle cx="1137.3" cy="1153.9" r="6.6" fill="#d0b999"/>
<circle cx="1162.1" cy="1157.9" r="6.6" fill="#cdb28a"/>
<circle cx="1188.4" cy="1154.6" r="6.6" fill="#c9a978"/>
<circle cx="1095.9" cy="1169.9" r="6.6" fill="#d8cec3"/>
<circle cx="1142.3" cy="1174.9" r="6.6" fill="#d3c0a8"/>
<circle cx="1254.6" cy="1187.3" r="6.6" fill="#c9a572"/>
<circle cx="1042.1" cy="1166.6" r="6.6" fill="#9a77a0"/>
<circle cx="1010.4" cy="1178.9" r="6.6" fill="#4f1058"/>
<circle cx="1033.8" cy="1188.3" r="6.6" fill="#6a2873"/>
<circle cx="1049.8" cy="1196.7" r="6.6" fill="#743279"/>
<circle cx="1059.5" cy="1208.3" r="6.6" fill="#7f4088"/>
<circle cx="1057.5" cy="1219.4" r="6.6" fill="#8a5391"/>
<circle cx="1078.2" cy="1219.4" r="6.6" fill="#8d5a94"/>
<circle cx="1080.5" cy="1237.4" r="6.6" fill="#b9a3bb"/>
<circle cx="1135" cy="1204.3" r="6.6" fill="#d6c9b9"/>
<circle cx="1160" cy="1205" r="6.6" fill="#d3c0a5"/>
<circle cx="1209.2" cy="1208" r="6.6" fill="#ccb08a"/>
<circle cx="1162.7" cy="1249.1" r="6.6" fill="#d3c0a8"/>
<circle cx="1224.9" cy="1260.1" r="6.6" fill="#d0b794"/>
<circle cx="1151" cy="1267.2" r="6.6" fill="#d9cfd0"/>
<circle cx="1055.5" cy="1255.8" r="6.6" fill="#5f1c66"/>
<circle cx="1067.2" cy="1287.2" r="6.6" fill="#84498c"/>
<circle cx="1071.5" cy="1350" r="6.6" fill="#5f1c66"/>
<circle cx="1208.5" cy="1338.6" r="6.6" fill="#d8cdc0"/>
<circle cx="1224.2" cy="1400.1" r="6.6" fill="#d9d3d3"/>
<circle cx="1214.8" cy="1402.8" r="6.6" fill="#d9d3d3"/>
<circle cx="1214.2" cy="1411.1" r="6.6" fill="#d9d6d6"/>
<circle cx="1055.1" cy="1184" r="6.6" fill="#b199b4"/>
<circle cx="1088.2" cy="1267.2" r="6.6" fill="#8d5a94"/>
<circle cx="1095.6" cy="1295.2" r="6.6" fill="#915f98"/>
<circle cx="1113.9" cy="1317.6" r="6.6" fill="#7a4080"/>
<circle cx="1097.2" cy="1336" r="6.6" fill="#6f2d78"/>
<circle cx="1092.2" cy="1354.4" r="6.6" fill="#6f2d78"/>
<circle cx="1105.6" cy="1371.7" r="6.6" fill="#915f98"/>
<circle cx="1167.4" cy="1366.7" r="6.6" fill="#c2b3c7"/>
<circle cx="1180.8" cy="1373.1" r="6.6" fill="#cfc2cc"/>
<circle cx="1190.1" cy="1379.4" r="6.6" fill="#d0c6cc"/>
<circle cx="1175.7" cy="1381.7" r="6.6" fill="#d3cdcc"/>
<circle cx="1197.5" cy="1388.4" r="6.6" fill="#d2cacc"/>
<polyline transform="scale(1.3 1)" fill="none" stroke="#424244" stroke-width="2.5" stroke-dasharray="10.3 11.7" points="788.77,1115.5 795.2,1127.2 800.34,1140.5 802.91,1153.9 810.62,1163.9 818.33,1175.6 823.47,1185.6 829.89,1194 831.18,1207.3 837.6,1217.4 840.17,1237.4 845.31,1257.5 851.74,1270.8 853.02,1290.9 856.88,1310.9 862.02,1334.3 864.59,1347.7 860.73,1364.4 867.16,1371.1 880.01,1379.4 885.15,1384.4 900.57,1390.4 912.13,1392.8 915.99,1399.5 913.42,1405.1"/>
<polyline transform="scale(1.25 1)" fill="none" stroke="#68b24f" stroke-width="6.7" stroke-linejoin="round" stroke-linecap="round" points="853.73,1113.8 843.04,1118.1 837.7,1118.8 839.03,1126.5 867.1,1128.8 895.16,1133.2 896.5,1143.9 897.83,1154.9 908.53,1156.2 904.52,1163.2 899.17,1167.3 905.85,1169.9 901.84,1174.6 891.15,1177.9 883.13,1185.6 871.11,1189 869.24,1195.7 872.44,1202.3 878.32,1208 864.42,1209 863.09,1217.4 864.42,1227.4 864.42,1237.4 861.75,1249.1 859.08,1259.1 863.09,1265.8 865.76,1270.8 867.1,1290.9 868.43,1310.9 871.11,1327.6 877.79,1339.3 871.11,1344.3 867.1,1350.3 871.11,1354.4 868.43,1361 867.1,1369.4 868.43,1374.4 884.47,1378.4 888.48,1381.7 884.47,1382.7 885.27,1388.4 893.83,1386.1 896.5,1389.4 921.89,1391.1 924.56,1394.4 937.93,1397.8 946.48,1400.5 927.24,1405.1"/>
<path d="M904.3 1080.4H914.1V1492.7H904.3M904.3 1183.3H914.1M904.3 1286.5H914.1M904.3 1389.4H914.1M932.5 1519.2V1509.4H1356.5V1519.2M1073.5 1509.4V1519.2M1214.8 1509.4V1519.2" fill="none" stroke="#231f20" stroke-width="2.2"/>
<g class="tk">
<text transform="translate(892.9 1079.7) rotate(-90)">0</text>
<text transform="translate(892.9 1182.6) rotate(-90)">20</text>
<text transform="translate(892.9 1285.8) rotate(-90)">40</text>
<text transform="translate(892.9 1388.7) rotate(-90)">60</text>
<text transform="translate(892.9 1492) rotate(-90)">80</text>
<text x="934.1" y="1540.1">0.0</text>
<text x="1075.1" y="1540.1">0.5</text>
<text x="1216.4" y="1540.1">1.0</text>
<text x="1358.1" y="1540.1">1.5</text>
</g></g>
<!-- panel p12 -->
<g>
<polygon fill="#cccccc" stroke="#cccccc" stroke-width="2.4" stroke-linejoin="round" points="1622.11,1116.1 1633.8,1125.5 1643.83,1140.5 1652.18,1154.6 1663.87,1157.2 1670.55,1167.3 1682.25,1175.6 1683.92,1184 1697.28,1189 1702.29,1200.7 1712.32,1209 1715.66,1224.1 1719,1240.8 1725.68,1254.1 1732.36,1267.5 1739.04,1270.8 1740.71,1290.9 1745.73,1307.6 1749.07,1324.3 1752.41,1337.6 1759.09,1347.7 1764.1,1356 1752.41,1367.7 1770.78,1372.7 1784.15,1379.4 1797.51,1386.1 1787.49,1389.4 1830.92,1394.4 1844.29,1404.5 1864.33,1406.1 1901.08,1405.1 1887.72,1401.1 1892.73,1396.1 1874.36,1392.8 1857.65,1390.4 1830.92,1386.1 1814.22,1377.7 1794.17,1371.1 1789.16,1366 1792.5,1354.4 1797.51,1347.7 1789.16,1334.3 1784.15,1317.6 1779.14,1304.2 1774.12,1287.5 1774.12,1270.8 1767.44,1264.1 1759.09,1257.5 1750.74,1244.1 1745.73,1230.7 1747.4,1217.4 1737.37,1210.7 1734.03,1200.7 1725.68,1192.3 1713.99,1184 1708.97,1172.3 1700.62,1170.6 1695.61,1156.2 1685.59,1155.6 1680.58,1140.5 1673.89,1127.2 1670.55,1116.1"/>
<circle cx="1705.6" cy="1110.5" r="6.6" fill="#cda56d"/>
<circle cx="1707.3" cy="1120.5" r="6.6" fill="#cfae80"/>
<circle cx="1699" cy="1127.2" r="6.6" fill="#d3c3a5"/>
<circle cx="1796.2" cy="1115.5" r="6.6" fill="#d49b3a"/>
<circle cx="1849" cy="1134.5" r="6.6" fill="#d4a04a"/>
<circle cx="1868.7" cy="1159.6" r="6.6" fill="#d0a455"/>
<circle cx="1899.7" cy="1155.6" r="6.6" fill="#d4a04a"/>
<circle cx="1949.5" cy="1155.6" r="6.6" fill="#d49b3a"/>
<circle cx="1892.7" cy="1176.3" r="6.6" fill="#d0a455"/>
<circle cx="1932.2" cy="1206.3" r="6.6" fill="#d0a455"/>
<circle cx="1947.2" cy="1250.1" r="6.6" fill="#d0a455"/>
<circle cx="1721.7" cy="1167.9" r="6.6" fill="#dcd6d0"/>
<circle cx="1731.7" cy="1171.3" r="6.6" fill="#d6c6b0"/>
<circle cx="1671.9" cy="1180.3" r="6.6" fill="#84498c"/>
<circle cx="1730.7" cy="1185" r="6.6" fill="#d6c9c6"/>
<circle cx="1738" cy="1189.3" r="6.6" fill="#d0c0c6"/>
<circle cx="1774.8" cy="1189" r="6.6" fill="#d6c6b0"/>
<circle cx="1788.5" cy="1198" r="6.6" fill="#d8ccb9"/>
<circle cx="1794.2" cy="1209.4" r="6.6" fill="#d6c6ae"/>
<circle cx="1817.6" cy="1205.7" r="6.6" fill="#d3bc98"/>
<circle cx="1647.2" cy="1209.4" r="6.6" fill="#4f1058"/>
<circle cx="1717.7" cy="1220.4" r="6.6" fill="#96709b"/>
<circle cx="1717.3" cy="1256.8" r="6.6" fill="#743279"/>
<circle cx="1766.8" cy="1268.2" r="6.6" fill="#b99fbc"/>
<circle cx="1752.4" cy="1268.2" r="6.6" fill="#b9a0b9"/>
<circle cx="1865.7" cy="1261.1" r="6.6" fill="#d6c6ae"/>
<circle cx="1741" cy="1288.2" r="6.6" fill="#a384a8"/>
<circle cx="1797.5" cy="1296.2" r="6.6" fill="#c7b3c8"/>
<circle cx="1855" cy="1340" r="6.6" fill="#d9d3cf"/>
<circle cx="1736.4" cy="1351" r="6.6" fill="#5f1c66"/>
<circle cx="1800.5" cy="1355.4" r="6.6" fill="#a98bad"/>
<circle cx="1762.4" cy="1374.4" r="6.6" fill="#96709b"/>
<circle cx="1834.3" cy="1367.7" r="6.6" fill="#bda3c0"/>
<circle cx="1841.6" cy="1374.4" r="6.6" fill="#bda3c0"/>
<circle cx="1850.3" cy="1380.4" r="6.6" fill="#c0a9c2"/>
<circle cx="1854.3" cy="1387.8" r="6.6" fill="#c4acc6"/>
<circle cx="1974.3" cy="1384.1" r="6.6" fill="#ccb08a"/>
<circle cx="1974.6" cy="1392.8" r="6.6" fill="#cfb590"/>
<circle cx="1920.5" cy="1401.1" r="6.6" fill="#d9d3cf"/>
<circle cx="1911.1" cy="1404.5" r="6.6" fill="#d9d3cf"/>
<circle cx="1910.1" cy="1412.2" r="6.6" fill="#d9d6d3"/>
<circle cx="1741.4" cy="1220" r="6.6" fill="#cfc3c7"/>
<circle cx="1729.7" cy="1238.4" r="6.6" fill="#c2b3c2"/>
<circle cx="1760.8" cy="1319.3" r="6.6" fill="#743279"/>
<circle cx="1787.8" cy="1338.3" r="6.6" fill="#ab8fb0"/>
<polyline transform="scale(1.3 1)" fill="none" stroke="#424244" stroke-width="2.5" stroke-dasharray="10.3 11.7" points="1270.91,1125.5 1277.33,1138.9 1282.47,1152.2 1292.75,1160.6 1300.46,1172.3 1303.03,1178.9 1315.88,1189 1321.02,1200.7 1326.16,1207.3 1332.59,1220.7 1333.87,1234.1 1339.01,1250.8 1346.72,1264.1 1350.58,1274.2 1353.15,1290.9 1357,1307.6 1360.86,1324.3 1364.71,1339.3 1369.85,1351 1364.71,1364.4 1367.28,1371.1 1382.7,1379.4 1398.12,1386.1 1421.25,1391.1 1434.1,1397.8 1443.1,1405.1"/>
<polyline transform="scale(1.25 1)" fill="none" stroke="#68b24f" stroke-width="6.7" stroke-linejoin="round" stroke-linecap="round" points="1401.93,1114.8 1389.9,1118.8 1380.54,1126.5 1395.24,1132.2 1404.6,1137.2 1413.95,1147.2 1421.97,1155.6 1440.68,1154.9 1448.7,1159.9 1442.02,1167.3 1443.36,1171.6 1427.32,1175.6 1416.63,1179.9 1411.28,1185.6 1409.95,1190.6 1413.95,1199 1416.63,1203.3 1421.97,1206.3 1412.62,1210 1404.6,1210 1403.8,1217.4 1407.27,1219.7 1403.26,1222.4 1401.93,1234.1 1404.6,1247.4 1401.93,1257.5 1404.6,1267.5 1409.95,1280.8 1413.95,1294.2 1413.95,1310.9 1415.29,1327.6 1416.63,1339.3 1423.31,1340.3 1417.96,1345 1413.95,1351 1421.97,1354.4 1419.3,1361 1415.29,1372.7 1419.3,1376.1 1431.33,1380.4 1439.35,1386.1 1439.35,1390.1 1464.74,1392.1 1491.47,1392.1 1478.1,1395.1 1472.76,1397.1 1491.47,1398.5 1506.17,1400.5 1491.47,1404.5 1468.75,1406.1"/>
<path d="M1486.4 1081.4H1496.2V1493.7H1486.4M1486.4 1184.6H1496.2M1486.4 1287.5H1496.2M1486.4 1390.4H1496.2M1514.2 1520.2V1510.4H1990V1520.2M1593 1510.4V1520.2M1672.6 1510.4V1520.2M1751.4 1510.4V1520.2M1830.9 1510.4V1520.2M1910.1 1510.4V1520.2" fill="none" stroke="#231f20" stroke-width="2.2"/>
<g class="tk">
<text transform="translate(1475 1080.7) rotate(-90)">0</text>
<text transform="translate(1475 1183.9) rotate(-90)">20</text>
<text transform="translate(1475 1286.8) rotate(-90)">40</text>
<text transform="translate(1475 1389.7) rotate(-90)">60</text>
<text transform="translate(1475 1493) rotate(-90)">80</text>
<text x="1515.8" y="1541.1">0.0</text>
<text x="1594.6" y="1541.1">0.2</text>
<text x="1674.2" y="1541.1">0.4</text>
<text x="1753" y="1541.1">0.6</text>
<text x="1832.5" y="1541.1">0.8</text>
<text x="1911.7" y="1541.1">1.0</text>
<text x="1991.6" y="1541.1">1.2</text>
</g></g>
<!-- panel p20 -->
<g>
<polygon fill="#cccccc" points="376.91,1601.1 385.27,1610.1 391.95,1621.8 395.29,1638.5 401.97,1651.9 405.31,1668.6 413.66,1678.6 411.99,1688.7 417,1702 420.35,1718.7 425.36,1735.4 428.7,1752.1 432.04,1772.2 434.38,1792.2 435.38,1812.3 437.05,1829 437.05,1842.4 435.38,1854 447.07,1857.4 457.1,1865.7 470.46,1870.7 477.14,1879.1 483.83,1889.1 510.55,1890.8 530.6,1884.1 557.33,1880.1 537.28,1877.4 518.91,1875.8 517.24,1869.1 503.87,1865.7 492.18,1855.7 497.19,1839 500.53,1834 495.52,1825.6 492.18,1808.9 490.51,1778.9 488.84,1762.2 483.83,1748.8 482.15,1735.4 478.81,1718.7 477.14,1705.4 475.47,1692 477.14,1685.3 470.46,1678.6 467.12,1665.3 462.11,1655.3 460.44,1641.9 455.43,1628.5 453.76,1613.5 467.12,1601.8 465.45,1600.1"/>
<circle cx="381.3" cy="1595.8" r="6.6" fill="#96709b"/>
<circle cx="813.2" cy="1600.1" r="6.6" fill="#d4982f"/>
<circle cx="557.3" cy="1619.2" r="6.6" fill="#c9a97a"/>
<circle cx="378.6" cy="1640.9" r="6.6" fill="#6a2873"/>
<circle cx="381.3" cy="1640.9" r="6.6" fill="#743279"/>
<circle cx="390.9" cy="1655.6" r="6.6" fill="#7f4a88"/>
<circle cx="395" cy="1664.6" r="6.6" fill="#84498c"/>
<circle cx="375.6" cy="1661.6" r="6.6" fill="#5f1c66"/>
<circle cx="381.3" cy="1674" r="6.6" fill="#6a2873"/>
<circle cx="417.3" cy="1670.3" r="6.6" fill="#ab8fb0"/>
<circle cx="487.2" cy="1644.6" r="6.6" fill="#d6c9b9"/>
<circle cx="489.5" cy="1672.6" r="6.6" fill="#d6c6b0"/>
<circle cx="486.5" cy="1682.3" r="6.6" fill="#d8ccbd"/>
<circle cx="519.6" cy="1690.7" r="6.6" fill="#d3c3ab"/>
<circle cx="386.3" cy="1691" r="6.6" fill="#6f2d78"/>
<circle cx="399" cy="1705.4" r="6.6" fill="#7a3a83"/>
<circle cx="406.3" cy="1723.1" r="6.6" fill="#8d5a94"/>
<circle cx="391.9" cy="1735.4" r="6.6" fill="#743279"/>
<circle cx="419" cy="1752.8" r="6.6" fill="#96709b"/>
<circle cx="537.3" cy="1741.5" r="6.6" fill="#d6c6b0"/>
<circle cx="488.8" cy="1746.5" r="6.6" fill="#d9d0cc"/>
<circle cx="514.9" cy="1773.5" r="6.6" fill="#d6c9b9"/>
<circle cx="554" cy="1781.2" r="6.6" fill="#d6c6b0"/>
<circle cx="380.6" cy="1803.9" r="6.6" fill="#581460"/>
<circle cx="514.6" cy="1835.7" r="6.6" fill="#d9d3cf"/>
<circle cx="519.2" cy="1840.3" r="6.6" fill="#d9d3cf"/>
<circle cx="503.9" cy="1853" r="6.6" fill="#d6cacc"/>
<circle cx="621.5" cy="1859.4" r="6.6" fill="#cfb590"/>
<circle cx="427.7" cy="1868.7" r="6.6" fill="#96709b"/>
<circle cx="435" cy="1877.1" r="6.6" fill="#9a77a0"/>
<circle cx="523.2" cy="1896.8" r="6.6" fill="#d9d3d3"/>
<circle cx="436" cy="1611.8" r="6.6" fill="#d2ccc8"/>
<circle cx="440.4" cy="1651.9" r="6.6" fill="#cbc3c7"/>
<circle cx="473.8" cy="1707" r="6.6" fill="#d0c8c4"/>
<circle cx="473.8" cy="1753.8" r="6.6" fill="#c8b8c9"/>
<circle cx="442.7" cy="1822.3" r="6.6" fill="#b199b4"/>
<circle cx="493.2" cy="1859.1" r="6.6" fill="#cfc3ca"/>
<circle cx="487.2" cy="1865.1" r="6.6" fill="#c9b8c9"/>
<circle cx="478.5" cy="1885.8" r="6.6" fill="#b59db8"/>
<polyline transform="scale(1.3 1)" fill="none" stroke="#424244" stroke-width="2.5" stroke-dasharray="10.3 11.7" points="317.69,1605.1 320.77,1618.5 324.63,1635.2 329.77,1651.9 334.91,1670.3 340.05,1688.7 343.9,1705.4 345.19,1725.4 349.04,1745.5 351.61,1755.5 352.9,1775.5 354.18,1792.2 356.75,1812.3 359.32,1829 360.61,1839 359.32,1855.7 367.03,1867.4 374.74,1875.8 382.45,1876.4 391.45,1885.8 390.68,1890.8"/>
<polyline transform="scale(1.25 1)" fill="none" stroke="#68b24f" stroke-width="6.7" stroke-linejoin="round" stroke-linecap="round" points="479.27,1600.1 456.55,1602.5 429.83,1605.1 416.46,1608.5 407.91,1611.8 416.46,1618.5 403.1,1631.9 397.75,1640.2 384.39,1640.9 383.05,1646.9 379.58,1652.6 383.05,1658.6 391.07,1661.3 381.71,1668.6 375.03,1673.6 368.35,1674.6 369.69,1685.3 373.7,1690.3 367.01,1692 372.36,1697 375.03,1704.7 370.49,1707 368.35,1718.7 369.69,1727.1 373.7,1733.8 375.83,1743.8 373.16,1753.8 375.03,1762.2 377.71,1773.9 381.71,1780.5 379.04,1792.2 376.9,1808.9 377.71,1822.3 382.25,1824 383.59,1835.7 379.04,1844 371.02,1852.4 357.66,1858.4 348.3,1859.7 357.66,1865.7 365.68,1870.7 359.8,1875.1 376.37,1879.1 403.1,1885.8 429.83,1888.5 458.69,1890.8"/>
<path d="M324.3 1566H334.1V1978.7H324.3M324.3 1669.3H334.1M324.3 1772.2H334.1M324.3 1875.1H334.1M352.5 2005.2V1995.4H780.8V2005.2M438.4 1995.4V2005.2M523.9 1995.4V2005.2M609.8 1995.4V2005.2M695 1995.4V2005.2" fill="none" stroke="#231f20" stroke-width="2.2"/>
<g class="tk">
<text transform="translate(312.9 1565.3) rotate(-90)">0</text>
<text transform="translate(312.9 1668.6) rotate(-90)">20</text>
<text transform="translate(312.9 1771.5) rotate(-90)">40</text>
<text transform="translate(312.9 1874.4) rotate(-90)">60</text>
<text transform="translate(312.9 1978) rotate(-90)">80</text>
<text x="354.1" y="2026.1">0.0</text>
<text x="440" y="2026.1">0.5</text>
<text x="525.5" y="2026.1">1.0</text>
<text x="611.4" y="2026.1">1.5</text>
<text x="696.6" y="2026.1">2.0</text>
<text x="782.4" y="2026.1">2.5</text>
</g></g>
<!-- panel p21 -->
<g>
<polygon fill="#cccccc" points="1043.11,1599.1 1057.14,1610.1 1067.17,1625.2 1077.19,1638.5 1090.55,1641.9 1100.58,1651.9 1110.6,1661.9 1120.62,1670.3 1130.65,1677 1137.33,1688.7 1145.68,1693.7 1152.36,1705.4 1154.03,1722.1 1162.39,1738.8 1170.74,1752.1 1179.09,1762.2 1180.76,1778.9 1184.1,1792.2 1190.78,1812.3 1200.81,1825.6 1209.16,1835.7 1200.81,1844 1190.78,1849 1204.15,1855.7 1217.51,1862.4 1227.53,1867.4 1250.92,1870.7 1274.31,1879.1 1297.7,1879.1 1317.74,1885.8 1307.72,1889.1 1344.47,1889.1 1364.52,1889.1 1371.2,1883.1 1386.23,1878.1 1364.52,1876.8 1344.47,1874.1 1327.77,1870.7 1311.06,1867.4 1291.01,1860.7 1274.31,1857.4 1264.29,1842.4 1267.63,1832.3 1260.95,1822.3 1255.93,1805.6 1250.92,1792.2 1245.91,1775.5 1242.57,1753.8 1235.89,1752.1 1229.21,1742.1 1217.51,1735.4 1210.83,1722.1 1210.16,1705.4 1205.82,1702 1204.15,1688.7 1199.14,1685.3 1190.78,1678.6 1184.1,1672 1170.74,1665.3 1167.4,1658.6 1157.37,1651.9 1150.69,1641.9 1147.35,1631.9 1140.67,1618.5 1133.99,1606.8 1127.3,1600.1 1137.33,1599.1"/>
<circle cx="1055.8" cy="1594.4" r="6.6" fill="#b9a0bb"/>
<circle cx="1144" cy="1598.5" r="6.6" fill="#cdae80"/>
<circle cx="1150.7" cy="1604.1" r="6.6" fill="#cdae80"/>
<circle cx="1210.8" cy="1610.5" r="6.6" fill="#cfa257"/>
<circle cx="1269.6" cy="1617.8" r="6.6" fill="#d49b3a"/>
<circle cx="1394.3" cy="1740.1" r="6.6" fill="#c9a572"/>
<circle cx="1106.6" cy="1654.3" r="6.6" fill="#b59cb8"/>
<circle cx="1170.7" cy="1642.9" r="6.6" fill="#d8cec0"/>
<circle cx="1194.8" cy="1639.2" r="6.6" fill="#d3bc98"/>
<circle cx="1195.1" cy="1667.9" r="6.6" fill="#d6c6b0"/>
<circle cx="1204.1" cy="1672" r="6.6" fill="#d6c6b0"/>
<circle cx="1232.5" cy="1692.3" r="6.6" fill="#d9cfc3"/>
<circle cx="1125.6" cy="1721.4" r="6.6" fill="#96709b"/>
<circle cx="1083.5" cy="1802.6" r="6.6" fill="#581460"/>
<circle cx="1272.6" cy="1821.3" r="6.6" fill="#cbbccb"/>
<circle cx="1317.1" cy="1834.3" r="6.6" fill="#d6cccf"/>
<circle cx="1380.6" cy="1889.1" r="6.6" fill="#d9d3d3"/>
<circle cx="1380.6" cy="1895.8" r="6.6" fill="#d9d6d6"/>
<circle cx="1123.3" cy="1638.9" r="6.6" fill="#c2b3c7"/>
<circle cx="1154.7" cy="1651.2" r="6.6" fill="#c5b8c7"/>
<circle cx="1152.4" cy="1660.3" r="6.6" fill="#ccc3cc"/>
<circle cx="1174.1" cy="1663.6" r="6.6" fill="#c5b5c7"/>
<circle cx="1185.8" cy="1672.6" r="6.6" fill="#cbc0cb"/>
<circle cx="1181.8" cy="1682" r="6.6" fill="#c8bbc9"/>
<circle cx="1199.1" cy="1690.3" r="6.6" fill="#d0caca"/>
<circle cx="1161" cy="1703.7" r="6.6" fill="#b093b3"/>
<circle cx="1199.1" cy="1734.8" r="6.6" fill="#cec5ca"/>
<circle cx="1173.4" cy="1751.8" r="6.6" fill="#a98bad"/>
<circle cx="1207.5" cy="1752.1" r="6.6" fill="#ab8fb0"/>
<circle cx="1188.1" cy="1745.5" r="6.6" fill="#b59db8"/>
<circle cx="1212.5" cy="1772.2" r="6.6" fill="#c5b8c7"/>
<circle cx="1203.5" cy="1779.9" r="6.6" fill="#a98bad"/>
<circle cx="1236.6" cy="1823" r="6.6" fill="#c1adc3"/>
<circle cx="1260.9" cy="1839.3" r="6.6" fill="#b59db8"/>
<circle cx="1265.3" cy="1851.4" r="6.6" fill="#b093b3"/>
<circle cx="1205.5" cy="1858.1" r="6.6" fill="#a384a8"/>
<circle cx="1292.7" cy="1858.4" r="6.6" fill="#c1adc3"/>
<circle cx="1296" cy="1865.1" r="6.6" fill="#c5b1c7"/>
<circle cx="1303.4" cy="1868.4" r="6.6" fill="#c8b5c9"/>
<circle cx="1246.2" cy="1868.1" r="6.6" fill="#c1adc3"/>
<circle cx="1272" cy="1875.8" r="6.6" fill="#c5b1c7"/>
<circle cx="1333.8" cy="1873.8" r="6.6" fill="#cec3cc"/>
<circle cx="1352.8" cy="1879.1" r="6.6" fill="#d0c8cc"/>
<circle cx="1361.2" cy="1884.1" r="6.6" fill="#d2cccd"/>
<polyline transform="scale(1.3 1)" fill="none" stroke="#424244" stroke-width="2.5" stroke-dasharray="10.3 11.7" points="832.98,1599.1 841.46,1611.8 849.17,1628.5 856.88,1641.9 867.16,1651.9 873.58,1660.3 885.15,1671.3 895.43,1675.3 900.57,1688.7 905.71,1702 910.85,1718.7 913.42,1732.1 921.13,1742.1 930.12,1753.8 931.92,1772.2 936.55,1792.2 941.69,1812.3 946.83,1825.6 951.97,1835.7 946.83,1842.4 941.69,1850.7 951.97,1857.4 964.82,1864.1 975.1,1870.7 982.81,1869.1 980.24,1875.8 998.23,1875.1 1018.79,1876.4 1029.07,1880.8 1031.64,1889.1"/>
<polyline transform="scale(1.25 1)" fill="none" stroke="#68b24f" stroke-width="6.7" stroke-linejoin="round" stroke-linecap="round" points="879.93,1598.5 893.83,1604.5 912.53,1610.1 933.38,1616.8 931.24,1628.5 927.24,1638.5 931.24,1641.9 931.24,1651.9 936.06,1653.6 936.59,1661.9 938.73,1669.3 929.91,1672 931.24,1682 935.25,1690.3 939.8,1693.7 938.73,1705.4 936.59,1718.7 937.93,1730.4 941.94,1735.4 949.95,1738.1 953.96,1743.8 953.96,1758.8 953.96,1775.5 951.29,1792.2 947.28,1802.3 949.95,1812.3 953.96,1822.3 959.31,1824 966.79,1834 957.97,1837.3 948.62,1839 945.14,1850.7 949.95,1860.7 955.3,1868.4 968.66,1869.7 960.65,1874.1 982.03,1875.8 983.36,1879.1 1014.1,1882.4 1032.81,1885.1 1039.49,1885.1 1034.15,1889.8"/>
<path d="M905.3 1565H915.1V1977.7H905.3M905.3 1668.3H915.1M905.3 1771.2H915.1M905.3 1874.1H915.1M933.5 2004.2V1994.4H1380.6V2004.2M1022.7 1994.4V2004.2M1112.3 1994.4V2004.2M1201.5 1994.4V2004.2M1291 1994.4V2004.2" fill="none" stroke="#231f20" stroke-width="2.2"/>
<g class="tk">
<text transform="translate(893.9 1564.3) rotate(-90)">0</text>
<text transform="translate(893.9 1667.6) rotate(-90)">20</text>
<text transform="translate(893.9 1770.5) rotate(-90)">40</text>
<text transform="translate(893.9 1873.4) rotate(-90)">60</text>
<text transform="translate(893.9 1977) rotate(-90)">80</text>
<text x="935.1" y="2025.1">0.0</text>
<text x="1024.3" y="2025.1">0.2</text>
<text x="1113.9" y="2025.1">0.4</text>
<text x="1203.1" y="2025.1">0.6</text>
<text x="1292.6" y="2025.1">0.8</text>
<text x="1382.2" y="2025.1">1.0</text>
</g></g>
<!-- panel p22 -->
<g>
<polygon fill="#cccccc" stroke="#cccccc" stroke-width="2.4" stroke-linejoin="round" points="1640.48,1602.5 1652.18,1611.8 1662.2,1625.2 1668.88,1640.2 1687.26,1645.2 1693.94,1658.6 1703.96,1670.3 1720.67,1673.6 1724.01,1688.7 1734.03,1693.7 1739.04,1705.4 1744.06,1712.1 1745.73,1728.8 1752.41,1742.1 1760.76,1753.8 1767.44,1755.5 1769.11,1775.5 1774.12,1792.2 1779.14,1808.9 1782.48,1822.3 1790.83,1832.3 1792.5,1839 1780.81,1852.4 1797.51,1859.1 1814.22,1869.1 1830.92,1874.1 1819.23,1876.4 1864.33,1879.1 1897.74,1885.8 1906.1,1891.5 1917.79,1890.8 1912.78,1882.4 1897.74,1879.1 1864.33,1875.8 1840.95,1870.7 1830.92,1865.7 1814.22,1860.7 1805.86,1854 1810.88,1845.7 1816.89,1835.7 1807.53,1825.6 1799.18,1805.6 1792.5,1785.6 1789.16,1775.5 1789.16,1755.5 1779.14,1753.8 1774.12,1742.1 1764.1,1732.1 1764.1,1708.7 1755.75,1707 1755.75,1697 1747.4,1692 1740.71,1677 1727.35,1673.6 1717.33,1666.9 1715.66,1656.9 1705.63,1655.3 1702.29,1643.6 1690.6,1641.9 1683.92,1625.2 1675.56,1611.8 1675.56,1602.5"/>
<circle cx="1721.3" cy="1596.8" r="6.6" fill="#c9a572"/>
<circle cx="1752.4" cy="1600.1" r="6.6" fill="#cda560"/>
<circle cx="1801.9" cy="1612.8" r="6.6" fill="#d0a455"/>
<circle cx="1836.6" cy="1606.5" r="6.6" fill="#d49b3a"/>
<circle cx="1830.9" cy="1620.2" r="6.6" fill="#d4a04a"/>
<circle cx="1878.4" cy="1644.9" r="6.6" fill="#d0a455"/>
<circle cx="1740.4" cy="1641.2" r="6.6" fill="#d6ccc6"/>
<circle cx="1775.8" cy="1641.9" r="6.6" fill="#d3c0a0"/>
<circle cx="1819.2" cy="1653.6" r="6.6" fill="#cdb590"/>
<circle cx="1729" cy="1656.9" r="6.6" fill="#d9d0c6"/>
<circle cx="1767.8" cy="1662.3" r="6.6" fill="#d6ccc0"/>
<circle cx="1794.8" cy="1665.9" r="6.6" fill="#d8cec3"/>
<circle cx="1813.2" cy="1671.3" r="6.6" fill="#cda978"/>
<circle cx="1831.9" cy="1674.6" r="6.6" fill="#ccb08a"/>
<circle cx="1786.5" cy="1675" r="6.6" fill="#d9d0c9"/>
<circle cx="1974.9" cy="1683.7" r="6.6" fill="#d0a04a"/>
<circle cx="1878" cy="1691.7" r="6.6" fill="#c9a97a"/>
<circle cx="1766.4" cy="1695" r="6.6" fill="#96709b"/>
<circle cx="1770.1" cy="1692" r="6.6" fill="#d9d0cc"/>
<circle cx="1808.2" cy="1694.7" r="6.6" fill="#d3c3ab"/>
<circle cx="1822.6" cy="1706" r="6.6" fill="#d3c0a5"/>
<circle cx="1886" cy="1706.4" r="6.6" fill="#ccb08a"/>
<circle cx="1739" cy="1723.7" r="6.6" fill="#8d5a94"/>
<circle cx="1786.5" cy="1736.4" r="6.6" fill="#d6cccf"/>
<circle cx="1931.8" cy="1742.8" r="6.6" fill="#ccb08a"/>
<circle cx="1849" cy="1747.1" r="6.6" fill="#d6c6b0"/>
<circle cx="1874" cy="1754.5" r="6.6" fill="#d3c0a5"/>
<circle cx="1832.6" cy="1754.5" r="6.6" fill="#d8ccc0"/>
<circle cx="1852.3" cy="1774.5" r="6.6" fill="#d6c6b3"/>
<circle cx="1837.6" cy="1782.2" r="6.6" fill="#ab8fb0"/>
<circle cx="1808.2" cy="1804.9" r="6.6" fill="#581460"/>
<circle cx="1884.7" cy="1825.6" r="6.6" fill="#d9cfc3"/>
<circle cx="1934.2" cy="1824" r="6.6" fill="#d3c3b3"/>
<circle cx="1903.8" cy="1836.7" r="6.6" fill="#d9d3cf"/>
<circle cx="1879.4" cy="1841.3" r="6.6" fill="#b093b3"/>
<circle cx="1897.4" cy="1854" r="6.6" fill="#c4b3c6"/>
<circle cx="1862" cy="1860.1" r="6.6" fill="#ccc0cc"/>
<circle cx="1833.6" cy="1870.7" r="6.6" fill="#a07fa5"/>
<circle cx="1871" cy="1877.4" r="6.6" fill="#b59cb8"/>
<circle cx="1922.8" cy="1860.7" r="6.6" fill="#d9d3d3"/>
<circle cx="1923.5" cy="1868.4" r="6.6" fill="#d9d3d3"/>
<circle cx="1919.5" cy="1875.8" r="6.6" fill="#d6cccf"/>
<circle cx="1927.8" cy="1880.8" r="6.6" fill="#d6cfcf"/>
<circle cx="1936.2" cy="1887.5" r="6.6" fill="#d9d3d3"/>
<circle cx="1941.2" cy="1892.5" r="6.6" fill="#d9d3d3"/>
<circle cx="1944.5" cy="1898.5" r="6.6" fill="#d9d6d3"/>
<polyline transform="scale(1.3 1)" fill="none" stroke="#424244" stroke-width="2.5" stroke-dasharray="10.3 11.7" points="1276.82,1606.1 1282.47,1618.5 1288.9,1631.9 1295.32,1641.9 1305.6,1645.2 1312.03,1656.9 1318.45,1670.3 1330.02,1675.3 1333.87,1688.7 1341.58,1695.3 1345.44,1705.4 1348.78,1715.4 1350.58,1728.8 1355.72,1742.1 1362.14,1753.8 1368.57,1757.2 1368.57,1775.5 1372.42,1792.2 1376.28,1808.9 1380.13,1822.3 1386.56,1834 1381.42,1847.4 1378.85,1854 1390.41,1859.1 1403.26,1867.4 1416.11,1874.1 1441.81,1877.4 1459.8,1879.1 1466.23,1887.5"/>
<polyline transform="scale(1.25 1)" fill="none" stroke="#68b24f" stroke-width="6.7" stroke-linejoin="round" stroke-linecap="round" points="1389.1,1601.1 1403.26,1604.5 1416.63,1606.8 1424.65,1613.5 1431.33,1619.2 1429.46,1628.5 1425.98,1636.9 1423.84,1641.9 1432.66,1643.9 1436.67,1651.9 1441.22,1661.3 1440.68,1673.6 1446.03,1678.6 1454.05,1683.7 1458.86,1691.3 1448.7,1695.3 1450.04,1704.7 1454.05,1708 1450.84,1712.1 1448.7,1723.7 1454.05,1735.4 1461.53,1743.8 1463.4,1752.1 1468.75,1767.2 1471.42,1775.5 1471.42,1785.6 1470.08,1802.3 1466.07,1815.6 1463.4,1824 1466.88,1830.7 1467.95,1837.3 1459.39,1840.7 1455.38,1854 1460.73,1860.7 1466.07,1864.1 1468.75,1868.4 1483.45,1870.7 1474.09,1875.8 1488.79,1880.8 1504.83,1885.1 1518.19,1887.5 1521.4,1892.5"/>
<path d="M1486.4 1567.7H1496.2V1980H1486.4M1486.4 1670.6H1496.2M1486.4 1773.9H1496.2M1486.4 1876.8H1496.2M1514.2 2006.5V1996.7H1944.2V2006.5M1600.1 1996.7V2006.5M1686.3 1996.7V2006.5M1772.1 1996.7V2006.5M1858 1996.7V2006.5" fill="none" stroke="#231f20" stroke-width="2.2"/>
<g class="tk">
<text transform="translate(1475 1567) rotate(-90)">0</text>
<text transform="translate(1475 1669.9) rotate(-90)">20</text>
<text transform="translate(1475 1773.2) rotate(-90)">40</text>
<text transform="translate(1475 1876.1) rotate(-90)">60</text>
<text transform="translate(1475 1979.3) rotate(-90)">80</text>
<text x="1515.8" y="2027.4">0.0</text>
<text x="1601.7" y="2027.4">0.2</text>
<text x="1687.9" y="2027.4">0.4</text>
<text x="1773.7" y="2027.4">0.6</text>
<text x="1859.6" y="2027.4">0.8</text>
<text x="1945.8" y="2027.4">1.0</text>
</g></g>
<!-- panel p30 -->
<g>
<polygon fill="#cccccc" points="383.59,2086.8 393.62,2095.2 400.3,2105.2 403.64,2121.9 410.32,2138.6 418.68,2152 428.7,2158.7 437.05,2172 440.39,2188.7 443.73,2205.4 447.07,2222.1 448.74,2238.8 455.43,2242.2 457.1,2262.2 458.77,2282.3 462.11,2299 463.78,2315.7 463.78,2329.1 459.77,2337.4 467.12,2345.8 477.14,2352.4 497.19,2362.5 510.55,2367.5 523.92,2370.8 513.89,2375.8 584.06,2375.8 570.69,2372.5 564.01,2364.1 550.65,2359.1 543.96,2350.8 533.94,2345.8 527.26,2335.7 523.92,2322.4 527.26,2309 525.59,2295.6 522.25,2275.6 518.91,2255.6 517.24,2238.8 510.55,2228.8 503.87,2222.1 500.53,2208.8 500.53,2195.4 493.85,2188.7 490.51,2172 483.83,2162 478.81,2150.3 477.14,2138.6 470.46,2128.6 467.12,2115.2 462.11,2101.9 458.77,2095.2 468.79,2086.8"/>
<circle cx="413" cy="2081.5" r="6.6" fill="#d3c9cc"/>
<circle cx="659.6" cy="2091.5" r="6.6" fill="#d0a04a"/>
<circle cx="719.7" cy="2086.2" r="6.6" fill="#d49b3a"/>
<circle cx="541.3" cy="2104.2" r="6.6" fill="#c9a97a"/>
<circle cx="477.1" cy="2126.3" r="6.6" fill="#d9cfc6"/>
<circle cx="491.8" cy="2130.3" r="6.6" fill="#d8ccbd"/>
<circle cx="404.3" cy="2125.9" r="6.6" fill="#9a77a0"/>
<circle cx="415" cy="2139" r="6.6" fill="#a98bad"/>
<circle cx="394.3" cy="2142" r="6.6" fill="#96709b"/>
<circle cx="379.6" cy="2151" r="6.6" fill="#6f2d78"/>
<circle cx="366.2" cy="2160.3" r="6.6" fill="#581460"/>
<circle cx="620.1" cy="2169" r="6.6" fill="#ccb08a"/>
<circle cx="518.9" cy="2177" r="6.6" fill="#d6c9b9"/>
<circle cx="512.9" cy="2179.7" r="6.6" fill="#d6c9b9"/>
<circle cx="500.5" cy="2190.4" r="6.6" fill="#d6c9b9"/>
<circle cx="366.2" cy="2191.1" r="6.6" fill="#581460"/>
<circle cx="410" cy="2208.8" r="6.6" fill="#9a6fa0"/>
<circle cx="429.7" cy="2221.5" r="6.6" fill="#a98bad"/>
<circle cx="404" cy="2238.8" r="6.6" fill="#7f4a88"/>
<circle cx="811.9" cy="2259.2" r="6.6" fill="#cda560"/>
<circle cx="586.4" cy="2266.9" r="6.6" fill="#d6c9b9"/>
<circle cx="433" cy="2290" r="6.6" fill="#8d5a94"/>
<circle cx="456.4" cy="2310.3" r="6.6" fill="#b59cb8"/>
<circle cx="532.3" cy="2326" r="6.6" fill="#d3c6cc"/>
<circle cx="774.8" cy="2345.4" r="6.6" fill="#c9a572"/>
<circle cx="629.5" cy="2363.1" r="6.6" fill="#d6c6b0"/>
<circle cx="565.3" cy="2377.5" r="6.6" fill="#d9d3d3"/>
<circle cx="565.3" cy="2382.5" r="6.6" fill="#d9d3d3"/>
<circle cx="410.7" cy="2097.9" r="6.6" fill="#baa6bc"/>
<circle cx="425.4" cy="2147.3" r="6.6" fill="#b59db8"/>
<circle cx="429.7" cy="2177" r="6.6" fill="#b59db8"/>
<circle cx="451.4" cy="2179.7" r="6.6" fill="#c8bbc9"/>
<circle cx="460.8" cy="2227.2" r="6.6" fill="#baa1bd"/>
<circle cx="473.8" cy="2232.2" r="6.6" fill="#c8bbc9"/>
<circle cx="497.2" cy="2308.3" r="6.6" fill="#cbc0cb"/>
<circle cx="483.2" cy="2321.4" r="6.6" fill="#baa2bc"/>
<circle cx="483.8" cy="2337.4" r="6.6" fill="#c5b1c7"/>
<circle cx="480.5" cy="2347.4" r="6.6" fill="#bea6c1"/>
<circle cx="485.5" cy="2355.8" r="6.6" fill="#bea6c1"/>
<circle cx="473.8" cy="2360.8" r="6.6" fill="#b093b3"/>
<circle cx="480.5" cy="2365.8" r="6.6" fill="#ab8fb0"/>
<circle cx="531.3" cy="2371.8" r="6.6" fill="#c8bbc9"/>
<polyline transform="scale(1.3 1)" fill="none" stroke="#424244" stroke-width="2.5" stroke-dasharray="10.3 11.7" points="323.86,2091.8 328.48,2105.2 333.62,2118.6 340.05,2133.6 346.47,2152 352.9,2165.3 358.04,2182.1 361.89,2202.1 363.18,2218.8 368.32,2232.2 372.17,2248.9 373.46,2268.9 376.03,2292.3 378.6,2312.4 377.31,2329.1 374.74,2340.7 385.02,2345.8 397.87,2355.8 392.73,2360.8 408.15,2362.5 418.43,2367.5 419.72,2375.8"/>
<polyline transform="scale(1.25 1)" fill="none" stroke="#68b24f" stroke-width="6.7" stroke-linejoin="round" stroke-linecap="round" points="452.01,2085.8 465.91,2087.5 479.27,2091.2 464.57,2093.2 451.21,2095.2 440.52,2097.2 439.18,2104.5 429.83,2113.6 421.81,2122.6 415.12,2125.9 403.1,2136.9 400.42,2142.6 407.11,2146.3 395.08,2150.3 391.87,2159.3 383.05,2160.3 392.41,2167 395.61,2173.7 391.07,2177 397.75,2181.4 397.75,2189.4 389.73,2192.1 387.06,2200.4 384.92,2208.1 388.4,2215.5 391.07,2222.1 389.73,2230.5 383.05,2238.2 397.75,2248.9 412.45,2266.2 409.78,2278.9 407.11,2292.3 408.44,2309 412.45,2315.7 415.12,2325.7 419.13,2327.4 417,2335.7 415.12,2342.4 420.47,2345.8 392.41,2346.4 403.1,2351.8 427.15,2355.8 427.15,2359.8 456.55,2364.1 483.28,2371.8 510.01,2374.2 538.07,2376.5"/>
<path d="M323 2052.4H332.8V2464.7H323M323 2155.3H332.8M323 2258.6H332.8M323 2361.5H332.8M351.2 2490.5V2480.7H779.5V2490.5M458.4 2480.7V2490.5M565.3 2480.7V2490.5M672.6 2480.7V2490.5" fill="none" stroke="#231f20" stroke-width="2.2"/>
<g class="tk">
<text transform="translate(311.6 2051.7) rotate(-90)">0</text>
<text transform="translate(311.6 2154.6) rotate(-90)">20</text>
<text transform="translate(311.6 2257.9) rotate(-90)">40</text>
<text transform="translate(311.6 2360.8) rotate(-90)">60</text>
<text transform="translate(311.6 2464) rotate(-90)">80</text>
<text x="352.8" y="2511.4">0.0</text>
<text x="460" y="2511.4">0.5</text>
<text x="566.9" y="2511.4">1.0</text>
<text x="674.2" y="2511.4">1.5</text>
<text x="781.1" y="2511.4">2.0</text>
</g></g>
<!-- panel p31 -->
<g>
<polygon fill="#cccccc" points="1032.09,2086.5 1047.12,2095.2 1060.48,2103.5 1067.17,2115.2 1072.18,2125.3 1080.53,2126.9 1090.55,2135.3 1098.91,2143.6 1107.26,2148.6 1115.61,2158.7 1127.3,2167 1137.33,2172 1139,2188.7 1145.68,2192.1 1147.35,2205.4 1154.03,2218.8 1160.71,2232.2 1169.07,2242.2 1174.08,2255.6 1175.75,2268.9 1180.76,2282.3 1185.77,2295.6 1189.11,2309 1197.47,2312.4 1199.14,2322.4 1190.78,2330.7 1182.43,2338.4 1204.15,2345.8 1217.51,2359.1 1250.92,2362.5 1284.33,2364.1 1311.06,2370.8 1296.03,2375.8 1337.79,2377.5 1371.2,2377.5 1371.2,2370.8 1377.88,2365.8 1351.15,2364.1 1324.42,2355.8 1307.72,2352.4 1284.33,2345.8 1264.29,2340.7 1260.95,2335.7 1265.96,2320.7 1259.27,2309 1257.6,2289 1252.59,2272.3 1249.25,2258.9 1245.91,2242.2 1237.56,2238.8 1235.89,2225.5 1227.53,2215.5 1222.52,2205.4 1223.53,2190.4 1212.5,2190.4 1210.83,2180.4 1202.48,2178.7 1199.14,2167 1190.78,2163.7 1180.76,2158.7 1174.08,2148.6 1165.73,2142 1157.37,2135.3 1150.69,2126.9 1142.34,2125.3 1139,2111.9 1133.99,2098.5 1133.32,2086.5"/>
<circle cx="1077.9" cy="2081.5" r="6.6" fill="#d8cec3"/>
<circle cx="1104.6" cy="2086.2" r="6.6" fill="#d3bc98"/>
<circle cx="1180.8" cy="2125.9" r="6.6" fill="#d9cfc3"/>
<circle cx="1281" cy="2130.3" r="6.6" fill="#d49b3a"/>
<circle cx="1091.2" cy="2160" r="6.6" fill="#6a2873"/>
<circle cx="1206.2" cy="2156" r="6.6" fill="#cfb590"/>
<circle cx="1232.2" cy="2176.7" r="6.6" fill="#d3c3a5"/>
<circle cx="1077.9" cy="2180" r="6.6" fill="#581460"/>
<circle cx="1125.6" cy="2179.7" r="6.6" fill="#96709b"/>
<circle cx="1282.7" cy="2190.7" r="6.6" fill="#cda560"/>
<circle cx="1343.5" cy="2227.5" r="6.6" fill="#ccb08a"/>
<circle cx="1266.6" cy="2239.2" r="6.6" fill="#d9d9d9"/>
<circle cx="1392.6" cy="2259.2" r="6.6" fill="#d49b3a"/>
<circle cx="1301" cy="2266.9" r="6.6" fill="#d9d0c6"/>
<circle cx="1278" cy="2310.7" r="6.6" fill="#cfc3cf"/>
<circle cx="1320.1" cy="2326.4" r="6.6" fill="#cbbccb"/>
<circle cx="1393.9" cy="2321.7" r="6.6" fill="#d0b794"/>
<circle cx="1357.5" cy="2345.4" r="6.6" fill="#cfb590"/>
<circle cx="1392.9" cy="2363.5" r="6.6" fill="#d0b794"/>
<circle cx="1381.2" cy="2375.8" r="6.6" fill="#d9d3d3"/>
<circle cx="1377.2" cy="2382.5" r="6.6" fill="#d9d3d3"/>
<circle cx="1113.9" cy="2095.2" r="6.6" fill="#d3ccc4"/>
<circle cx="1123.3" cy="2124.6" r="6.6" fill="#ab8fb0"/>
<circle cx="1158" cy="2139.6" r="6.6" fill="#c5b8c7"/>
<circle cx="1153" cy="2146.3" r="6.6" fill="#c1adc3"/>
<circle cx="1126.6" cy="2151" r="6.6" fill="#8d5a94"/>
<circle cx="1133.3" cy="2159.3" r="6.6" fill="#b093b3"/>
<circle cx="1194.1" cy="2168.7" r="6.6" fill="#cbc0cb"/>
<circle cx="1160.7" cy="2177" r="6.6" fill="#b59db8"/>
<circle cx="1154" cy="2191.1" r="6.6" fill="#7a3a83"/>
<circle cx="1170.7" cy="2208.1" r="6.6" fill="#ccc3cc"/>
<circle cx="1172.4" cy="2221.1" r="6.6" fill="#b59db8"/>
<circle cx="1194.8" cy="2232.2" r="6.6" fill="#ab8fb0"/>
<circle cx="1181.8" cy="2238.2" r="6.6" fill="#9a6fa0"/>
<circle cx="1199.1" cy="2289.6" r="6.6" fill="#6f2d78"/>
<circle cx="1249.9" cy="2309" r="6.6" fill="#baa2bc"/>
<circle cx="1305.4" cy="2338.4" r="6.6" fill="#bea6c1"/>
<circle cx="1305.7" cy="2345.8" r="6.6" fill="#bea6c1"/>
<circle cx="1321.8" cy="2350.8" r="6.6" fill="#c2b7c2"/>
<circle cx="1327.8" cy="2355.8" r="6.6" fill="#d3ccc4"/>
<circle cx="1317.7" cy="2357.5" r="6.6" fill="#d2c8cc"/>
<polyline transform="scale(1.3 1)" fill="none" stroke="#424244" stroke-width="2.5" stroke-dasharray="10.3 11.7" points="830.66,2088.5 838.89,2098.5 844.03,2111.9 851.74,2121.9 862.02,2130.3 867.16,2142 874.87,2152 885.15,2163.7 892.86,2175.4 898,2179.4 906.99,2190.4 908.28,2205.4 912.13,2218.8 921.13,2232.2 926.27,2238.8 928.32,2255.6 930.12,2272.3 933.98,2289 937.83,2302.3 940.4,2310.7 946.83,2319 944.26,2327.4 936.55,2337.4 949.4,2344.1 962.25,2350.8 976.38,2357.5 987.95,2359.1 1013.65,2364.1 1031.64,2369.1 1029.07,2377.5"/>
<polyline transform="scale(1.25 1)" fill="none" stroke="#68b24f" stroke-width="6.7" stroke-linejoin="round" stroke-linecap="round" points="872.44,2085.8 873.78,2093.5 879.12,2103.5 881.8,2115.2 884.47,2125.3 893.83,2125.9 908.53,2130.3 911.2,2138.6 915.21,2142 914.67,2152 919.22,2158.7 923.76,2160.3 920.55,2165.3 923.23,2172 927.24,2176 913.87,2179.4 917.88,2188.7 919.22,2202.1 919.75,2215.5 921.89,2222.8 932.58,2227.2 933.38,2237.2 940.6,2239.5 947.28,2248.9 952.63,2258.9 954.77,2272.3 954.77,2285.6 957.97,2299 961.98,2309 968.66,2312.4 980.69,2320.7 971.34,2324 960.65,2330.7 952.09,2338.4 956.64,2344.1 972.67,2345.8 963.32,2349.1 974.01,2353.1 995.39,2356.5 984.7,2360.8 1000.74,2361.8 1027.47,2361.8 1054.19,2365.1 1075.58,2368.5 1090.28,2371.8 1095.62,2376.5"/>
<path d="M905.3 2052.4H915.1V2464.7H905.3M905.3 2155.3H915.1M905.3 2258.6H915.1M905.3 2361.5H915.1M933.5 2490.5V2480.7H1377.5V2490.5M1022.4 2480.7V2490.5M1111.3 2480.7V2490.5M1199.8 2480.7V2490.5M1289 2480.7V2490.5" fill="none" stroke="#231f20" stroke-width="2.2"/>
<g class="tk">
<text transform="translate(893.9 2051.7) rotate(-90)">0</text>
<text transform="translate(893.9 2154.6) rotate(-90)">20</text>
<text transform="translate(893.9 2257.9) rotate(-90)">40</text>
<text transform="translate(893.9 2360.8) rotate(-90)">60</text>
<text transform="translate(893.9 2464) rotate(-90)">80</text>
<text x="935.1" y="2511.4">0.0</text>
<text x="1024" y="2511.4">0.2</text>
<text x="1112.9" y="2511.4">0.4</text>
<text x="1201.4" y="2511.4">0.6</text>
<text x="1290.6" y="2511.4">0.8</text>
<text x="1379.1" y="2511.4">1.0</text>
</g></g>
<!-- panel p32 -->
<g>
<polygon fill="#cccccc" stroke="#cccccc" stroke-width="2.4" stroke-linejoin="round" points="1625.45,2087.5 1637.14,2095.2 1647.17,2106.9 1652.18,2118.6 1660.53,2126.9 1673.89,2130.3 1678.91,2140.3 1687.26,2147 1693.94,2155.3 1707.3,2160.3 1713.99,2172 1720.67,2180.4 1727.35,2192.1 1729.02,2208.8 1734.03,2222.1 1744.06,2235.5 1754.08,2245.5 1755.75,2262.2 1759.09,2278.9 1764.1,2295.6 1770.78,2309 1777.47,2322.4 1774.12,2330.7 1765.77,2339.1 1784.15,2345.8 1804.19,2354.1 1817.56,2359.1 1804.19,2362.5 1847.63,2364.1 1877.7,2369.1 1891.06,2374.2 1874.36,2377.5 1897.74,2378.5 1917.79,2377.5 1914.45,2369.1 1897.74,2365.8 1864.33,2360.8 1847.63,2357.5 1830.92,2352.4 1814.22,2345.8 1807.53,2339.1 1800.85,2329.1 1804.19,2315.7 1800.85,2305.7 1797.51,2292.3 1792.5,2278.9 1789.16,2262.2 1786.82,2245.5 1780.81,2235.5 1774.12,2228.8 1765.77,2222.1 1762.43,2208.8 1759.09,2195.4 1755.75,2188.7 1752.41,2178.7 1744.06,2172 1737.37,2162 1727.35,2155.3 1720.67,2148.6 1713.99,2142 1705.63,2138.6 1702.29,2130.3 1690.6,2126.9 1683.92,2115.2 1677.24,2101.9 1672.22,2091.8 1671.22,2087.5"/>
<circle cx="1702.6" cy="2082.8" r="6.6" fill="#cfb590"/>
<circle cx="1710.6" cy="2092.5" r="6.6" fill="#d0b794"/>
<circle cx="1853.3" cy="2087.2" r="6.6" fill="#d49b3a"/>
<circle cx="1878.4" cy="2099.2" r="6.6" fill="#d0a04a"/>
<circle cx="1775.5" cy="2106.2" r="6.6" fill="#ccb08a"/>
<circle cx="1867" cy="2127.6" r="6.6" fill="#cda560"/>
<circle cx="1870.3" cy="2127.6" r="6.6" fill="#cda560"/>
<circle cx="1973.2" cy="2131.6" r="6.6" fill="#d49b3a"/>
<circle cx="1781.5" cy="2140.3" r="6.6" fill="#d3bc9c"/>
<circle cx="1777.5" cy="2143" r="6.6" fill="#d3bc9c"/>
<circle cx="1816.9" cy="2151.6" r="6.6" fill="#d3c0a0"/>
<circle cx="1859.3" cy="2148.6" r="6.6" fill="#c9a572"/>
<circle cx="1827.6" cy="2158.7" r="6.6" fill="#d3bc98"/>
<circle cx="1820.9" cy="2161.3" r="6.6" fill="#d3bc98"/>
<circle cx="1838.6" cy="2180.7" r="6.6" fill="#d3c0a5"/>
<circle cx="1850.3" cy="2178.4" r="6.6" fill="#d0b794"/>
<circle cx="1901.4" cy="2178" r="6.6" fill="#c9a572"/>
<circle cx="1872" cy="2191.7" r="6.6" fill="#cdb580"/>
<circle cx="1805.9" cy="2209.8" r="6.6" fill="#d8ccbd"/>
<circle cx="1848.6" cy="2222.1" r="6.6" fill="#d6c6ae"/>
<circle cx="1841.3" cy="2228.2" r="6.6" fill="#d9d3d3"/>
<circle cx="1865.7" cy="2233.8" r="6.6" fill="#d6c6b0"/>
<circle cx="1790.2" cy="2240.2" r="6.6" fill="#c4acc6"/>
<circle cx="1887.4" cy="2260.6" r="6.6" fill="#d3c3ab"/>
<circle cx="1760.1" cy="2291" r="6.6" fill="#581460"/>
<circle cx="1876" cy="2311.7" r="6.6" fill="#d9cfc3"/>
<circle cx="1809.2" cy="2311" r="6.6" fill="#7a3a83"/>
<circle cx="1810.2" cy="2322.4" r="6.6" fill="#743279"/>
<circle cx="1856.6" cy="2339.7" r="6.6" fill="#ab8fb0"/>
<circle cx="1859.3" cy="2346.8" r="6.6" fill="#ab8fb0"/>
<circle cx="1882" cy="2352.4" r="6.6" fill="#b9a0bb"/>
<circle cx="1883.7" cy="2359.1" r="6.6" fill="#bda3c0"/>
<circle cx="1906.8" cy="2347.4" r="6.6" fill="#d8ccbd"/>
<circle cx="1911.1" cy="2357.5" r="6.6" fill="#d9cfc6"/>
<circle cx="1904.4" cy="2365.8" r="6.6" fill="#d6cacc"/>
<circle cx="1922.8" cy="2372.5" r="6.6" fill="#d9d3d3"/>
<circle cx="1932.2" cy="2377.5" r="6.6" fill="#d9d6d3"/>
<circle cx="1930.2" cy="2384.2" r="6.6" fill="#d9d6d3"/>
<circle cx="1741.7" cy="2161" r="6.6" fill="#b59db8"/>
<circle cx="1751.7" cy="2170" r="6.6" fill="#b093b3"/>
<circle cx="1749.4" cy="2181" r="6.6" fill="#a07fa5"/>
<circle cx="1761.4" cy="2192.1" r="6.6" fill="#9a77a0"/>
<circle cx="1769.4" cy="2240.9" r="6.6" fill="#84498c"/>
<circle cx="1781.5" cy="2268.6" r="6.6" fill="#84498c"/>
<circle cx="1795.2" cy="2328.1" r="6.6" fill="#6f2d78"/>
<polyline transform="scale(1.3 1)" fill="none" stroke="#424244" stroke-width="2.5" stroke-dasharray="10.3 11.7" points="1269.62,2090.2 1277.33,2101.9 1282.47,2115.2 1288.9,2126.9 1297.89,2130.3 1304.32,2141.3 1312.03,2152 1321.02,2160.3 1326.16,2172 1333.87,2181 1341.58,2183.7 1342.1,2198.8 1344.15,2215.5 1351.86,2232.2 1359.57,2245.5 1361.63,2262.2 1366,2278.9 1371.14,2295.6 1376.28,2312.4 1382.7,2320.7 1377.56,2330.7 1374.99,2340.7 1387.84,2347.4 1398.12,2354.1 1410.97,2358.5 1423.82,2360.8 1446.95,2365.8 1457.23,2370.8 1454.66,2378.5"/>
<polyline transform="scale(1.25 1)" fill="none" stroke="#68b24f" stroke-width="6.7" stroke-linejoin="round" stroke-linecap="round" points="1423.31,2086.8 1411.28,2090.2 1402.73,2092.5 1413.95,2095.2 1429.99,2097.5 1427.32,2105.2 1431.33,2113.6 1438.01,2126.9 1451.37,2127.9 1463.4,2131.3 1463.4,2138.6 1459.39,2140.3 1466.88,2143.6 1463.4,2148.6 1462.06,2157 1455.38,2163.7 1448.7,2168.7 1450.04,2173.7 1454.85,2178 1446.03,2178.7 1440.15,2181.4 1443.36,2188.7 1440.15,2195.4 1440.15,2212.1 1441.22,2225.5 1444.69,2228.8 1439.35,2233.8 1438.54,2245.5 1442.02,2255.6 1443.36,2268.9 1441.22,2285.6 1442.82,2299 1447.36,2309 1452.71,2312.4 1448.7,2324 1446.03,2334.1 1447.36,2344.1 1451.37,2349.1 1455.38,2355.8 1455.38,2362.5 1478.1,2364.1 1499.48,2365.1 1499.48,2367.5 1518.19,2371.8 1530.22,2374.2 1536.37,2378.5"/>
<path d="M1485 2053.4H1494.8V2466H1485M1485 2156.7H1494.8M1485 2259.6H1494.8M1485 2362.5H1494.8M1513.2 2491.9V2482.1H1930.2V2491.9M1596.4 2482.1V2491.9M1679.9 2482.1V2491.9M1763.1 2482.1V2491.9M1846.6 2482.1V2491.9" fill="none" stroke="#231f20" stroke-width="2.2"/>
<g class="tk">
<text transform="translate(1473.6 2052.7) rotate(-90)">0</text>
<text transform="translate(1473.6 2156) rotate(-90)">20</text>
<text transform="translate(1473.6 2258.9) rotate(-90)">40</text>
<text transform="translate(1473.6 2361.8) rotate(-90)">60</text>
<text transform="translate(1473.6 2465.3) rotate(-90)">80</text>
<text x="1514.8" y="2512.8">0.0</text>
<text x="1598" y="2512.8">0.2</text>
<text x="1681.5" y="2512.8">0.4</text>
<text x="1764.7" y="2512.8">0.6</text>
<text x="1848.2" y="2512.8">0.8</text>
<text x="1931.8" y="2512.8">1.0</text>
</g></g>
</g></svg></body></html>
